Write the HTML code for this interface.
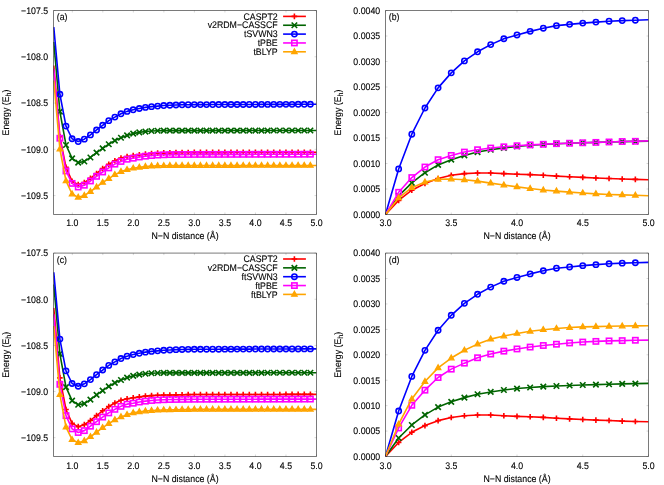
<!DOCTYPE html>
<html><head><meta charset="utf-8"><title>N2 dissociation curves</title>
<style>
html,body{margin:0;padding:0;background:#fff;}
svg{display:block;}
text{font-family:"Liberation Sans",sans-serif;font-size:9.59px;fill:#000;stroke:#000;stroke-width:0.12px;text-rendering:geometricPrecision;}
</style></head><body>
<svg width="664" height="485" viewBox="0 0 664 485">
<rect width="664" height="485" fill="#fff"/>
<g style="will-change:transform">
<clipPath id="ca"><rect x="53.5" y="10.5" width="263" height="204"/></clipPath>
<g clip-path="url(#ca)"><polyline points="53.77,65.47 59.88,136.74 65.99,167.37 72.1,181.25 78.21,184.59 84.32,182.55 90.43,178.39 96.54,173.48 102.65,168.67 108.76,164.41 114.87,160.8 120.98,158.12 127.09,156.54 133.2,155.62 139.31,154.69 145.42,153.95 151.53,153.49 157.64,153.12 163.75,152.84 169.86,152.75 175.97,152.66 182.08,152.56 188.19,152.47 194.3,152.38 200.41,152.37 206.52,152.36 212.63,152.35 218.74,152.34 224.85,152.33 230.96,152.32 237.07,152.31 243.18,152.31 249.29,152.3 255.4,152.29 261.51,152.28 267.62,152.27 273.73,152.26 279.84,152.25 285.95,152.24 292.06,152.23 298.17,152.22 304.28,152.21 310.39,152.2 316.5,152.19" fill="none" stroke="#ff0000" stroke-width="1.6" stroke-linejoin="round"/></g><path d="M57.08 136.74H62.68M59.88 133.94V139.54" stroke="#ff0000" stroke-width="1.6" fill="none"/><path d="M63.19 167.37H68.79M65.99 164.57V170.17" stroke="#ff0000" stroke-width="1.6" fill="none"/><path d="M69.3 181.25H74.9M72.1 178.45V184.05" stroke="#ff0000" stroke-width="1.6" fill="none"/><path d="M75.41 184.59H81.01M78.21 181.79V187.39" stroke="#ff0000" stroke-width="1.6" fill="none"/><path d="M81.52 182.55H87.12M84.32 179.75V185.35" stroke="#ff0000" stroke-width="1.6" fill="none"/><path d="M87.63 178.39H93.23M90.43 175.59V181.19" stroke="#ff0000" stroke-width="1.6" fill="none"/><path d="M93.74 173.48H99.34M96.54 170.68V176.28" stroke="#ff0000" stroke-width="1.6" fill="none"/><path d="M99.85 168.67H105.45M102.65 165.87V171.47" stroke="#ff0000" stroke-width="1.6" fill="none"/><path d="M105.96 164.41H111.56M108.76 161.61V167.21" stroke="#ff0000" stroke-width="1.6" fill="none"/><path d="M112.07 160.8H117.67M114.87 158V163.6" stroke="#ff0000" stroke-width="1.6" fill="none"/><path d="M118.18 158.12H123.78M120.98 155.32V160.92" stroke="#ff0000" stroke-width="1.6" fill="none"/><path d="M124.29 156.54H129.89M127.09 153.74V159.34" stroke="#ff0000" stroke-width="1.6" fill="none"/><path d="M130.4 155.62H136M133.2 152.82V158.42" stroke="#ff0000" stroke-width="1.6" fill="none"/><path d="M136.51 154.69H142.11M139.31 151.89V157.49" stroke="#ff0000" stroke-width="1.6" fill="none"/><path d="M142.62 153.95H148.22M145.42 151.15V156.75" stroke="#ff0000" stroke-width="1.6" fill="none"/><path d="M148.73 153.49H154.33M151.53 150.69V156.29" stroke="#ff0000" stroke-width="1.6" fill="none"/><path d="M154.84 153.12H160.44M157.64 150.32V155.92" stroke="#ff0000" stroke-width="1.6" fill="none"/><path d="M160.95 152.84H166.55M163.75 150.04V155.64" stroke="#ff0000" stroke-width="1.6" fill="none"/><path d="M167.06 152.75H172.66M169.86 149.95V155.55" stroke="#ff0000" stroke-width="1.6" fill="none"/><path d="M173.17 152.66H178.77M175.97 149.86V155.46" stroke="#ff0000" stroke-width="1.6" fill="none"/><path d="M179.28 152.56H184.88M182.08 149.76V155.36" stroke="#ff0000" stroke-width="1.6" fill="none"/><path d="M185.39 152.47H190.99M188.19 149.67V155.27" stroke="#ff0000" stroke-width="1.6" fill="none"/><path d="M191.5 152.38H197.1M194.3 149.58V155.18" stroke="#ff0000" stroke-width="1.6" fill="none"/><path d="M197.61 152.37H203.21M200.41 149.57V155.17" stroke="#ff0000" stroke-width="1.6" fill="none"/><path d="M203.72 152.36H209.32M206.52 149.56V155.16" stroke="#ff0000" stroke-width="1.6" fill="none"/><path d="M209.83 152.35H215.43M212.63 149.55V155.15" stroke="#ff0000" stroke-width="1.6" fill="none"/><path d="M215.94 152.34H221.54M218.74 149.54V155.14" stroke="#ff0000" stroke-width="1.6" fill="none"/><path d="M222.05 152.33H227.65M224.85 149.53V155.13" stroke="#ff0000" stroke-width="1.6" fill="none"/><path d="M228.16 152.32H233.76M230.96 149.52V155.12" stroke="#ff0000" stroke-width="1.6" fill="none"/><path d="M234.27 152.31H239.87M237.07 149.51V155.11" stroke="#ff0000" stroke-width="1.6" fill="none"/><path d="M240.38 152.31H245.98M243.18 149.51V155.11" stroke="#ff0000" stroke-width="1.6" fill="none"/><path d="M246.49 152.3H252.09M249.29 149.5V155.1" stroke="#ff0000" stroke-width="1.6" fill="none"/><path d="M252.6 152.29H258.2M255.4 149.49V155.09" stroke="#ff0000" stroke-width="1.6" fill="none"/><path d="M258.71 152.28H264.31M261.51 149.48V155.08" stroke="#ff0000" stroke-width="1.6" fill="none"/><path d="M264.82 152.27H270.42M267.62 149.47V155.07" stroke="#ff0000" stroke-width="1.6" fill="none"/><path d="M270.93 152.26H276.53M273.73 149.46V155.06" stroke="#ff0000" stroke-width="1.6" fill="none"/><path d="M277.04 152.25H282.64M279.84 149.45V155.05" stroke="#ff0000" stroke-width="1.6" fill="none"/><path d="M283.15 152.24H288.75M285.95 149.44V155.04" stroke="#ff0000" stroke-width="1.6" fill="none"/><path d="M289.26 152.23H294.86M292.06 149.43V155.03" stroke="#ff0000" stroke-width="1.6" fill="none"/><path d="M295.37 152.22H300.97M298.17 149.42V155.02" stroke="#ff0000" stroke-width="1.6" fill="none"/><path d="M301.48 152.21H307.08M304.28 149.41V155.01" stroke="#ff0000" stroke-width="1.6" fill="none"/><path d="M307.59 152.2H313.19M310.39 149.4V155" stroke="#ff0000" stroke-width="1.6" fill="none"/>
<g clip-path="url(#ca)"><polyline points="53.77,41.97 59.88,111.56 65.99,144.98 72.1,158.39 78.21,162.65 84.32,161.45 90.43,157.47 96.54,152.66 102.65,148.4 108.76,144.23 114.87,140.63 120.98,137.76 127.09,135.44 133.2,133.59 139.31,132.39 145.42,131.56 151.53,131 157.64,130.72 163.75,130.63 169.86,130.62 175.97,130.61 182.08,130.6 188.19,130.59 194.3,130.58 200.41,130.58 206.52,130.58 212.63,130.58 218.74,130.57 224.85,130.57 230.96,130.57 237.07,130.57 243.18,130.57 249.29,130.56 255.4,130.56 261.51,130.56 267.62,130.56 273.73,130.55 279.84,130.55 285.95,130.55 292.06,130.55 298.17,130.54 304.28,130.54 310.39,130.54 316.5,130.54" fill="none" stroke="#006400" stroke-width="1.6" stroke-linejoin="round"/></g><path d="M57.13 108.81L62.63 114.31M57.13 114.31L62.63 108.81" stroke="#006400" stroke-width="1.6" fill="none"/><path d="M63.24 142.23L68.74 147.73M63.24 147.73L68.74 142.23" stroke="#006400" stroke-width="1.6" fill="none"/><path d="M69.35 155.64L74.85 161.14M69.35 161.14L74.85 155.64" stroke="#006400" stroke-width="1.6" fill="none"/><path d="M75.46 159.9L80.96 165.4M75.46 165.4L80.96 159.9" stroke="#006400" stroke-width="1.6" fill="none"/><path d="M81.57 158.7L87.07 164.2M81.57 164.2L87.07 158.7" stroke="#006400" stroke-width="1.6" fill="none"/><path d="M87.68 154.72L93.18 160.22M87.68 160.22L93.18 154.72" stroke="#006400" stroke-width="1.6" fill="none"/><path d="M93.79 149.91L99.29 155.41M93.79 155.41L99.29 149.91" stroke="#006400" stroke-width="1.6" fill="none"/><path d="M99.9 145.65L105.4 151.15M99.9 151.15L105.4 145.65" stroke="#006400" stroke-width="1.6" fill="none"/><path d="M106.01 141.48L111.51 146.98M106.01 146.98L111.51 141.48" stroke="#006400" stroke-width="1.6" fill="none"/><path d="M112.12 137.88L117.62 143.38M112.12 143.38L117.62 137.88" stroke="#006400" stroke-width="1.6" fill="none"/><path d="M118.23 135.01L123.73 140.51M118.23 140.51L123.73 135.01" stroke="#006400" stroke-width="1.6" fill="none"/><path d="M124.34 132.69L129.84 138.19M124.34 138.19L129.84 132.69" stroke="#006400" stroke-width="1.6" fill="none"/><path d="M130.45 130.84L135.95 136.34M130.45 136.34L135.95 130.84" stroke="#006400" stroke-width="1.6" fill="none"/><path d="M136.56 129.64L142.06 135.14M136.56 135.14L142.06 129.64" stroke="#006400" stroke-width="1.6" fill="none"/><path d="M142.67 128.81L148.17 134.31M142.67 134.31L148.17 128.81" stroke="#006400" stroke-width="1.6" fill="none"/><path d="M148.78 128.25L154.28 133.75M148.78 133.75L154.28 128.25" stroke="#006400" stroke-width="1.6" fill="none"/><path d="M154.89 127.97L160.39 133.47M154.89 133.47L160.39 127.97" stroke="#006400" stroke-width="1.6" fill="none"/><path d="M161 127.88L166.5 133.38M161 133.38L166.5 127.88" stroke="#006400" stroke-width="1.6" fill="none"/><path d="M167.11 127.87L172.61 133.37M167.11 133.37L172.61 127.87" stroke="#006400" stroke-width="1.6" fill="none"/><path d="M173.22 127.86L178.72 133.36M173.22 133.36L178.72 127.86" stroke="#006400" stroke-width="1.6" fill="none"/><path d="M179.33 127.85L184.83 133.35M179.33 133.35L184.83 127.85" stroke="#006400" stroke-width="1.6" fill="none"/><path d="M185.44 127.84L190.94 133.34M185.44 133.34L190.94 127.84" stroke="#006400" stroke-width="1.6" fill="none"/><path d="M191.55 127.83L197.05 133.33M191.55 133.33L197.05 127.83" stroke="#006400" stroke-width="1.6" fill="none"/><path d="M197.66 127.83L203.16 133.33M197.66 133.33L203.16 127.83" stroke="#006400" stroke-width="1.6" fill="none"/><path d="M203.77 127.83L209.27 133.33M203.77 133.33L209.27 127.83" stroke="#006400" stroke-width="1.6" fill="none"/><path d="M209.88 127.83L215.38 133.33M209.88 133.33L215.38 127.83" stroke="#006400" stroke-width="1.6" fill="none"/><path d="M215.99 127.82L221.49 133.32M215.99 133.32L221.49 127.82" stroke="#006400" stroke-width="1.6" fill="none"/><path d="M222.1 127.82L227.6 133.32M222.1 133.32L227.6 127.82" stroke="#006400" stroke-width="1.6" fill="none"/><path d="M228.21 127.82L233.71 133.32M228.21 133.32L233.71 127.82" stroke="#006400" stroke-width="1.6" fill="none"/><path d="M234.32 127.82L239.82 133.32M234.32 133.32L239.82 127.82" stroke="#006400" stroke-width="1.6" fill="none"/><path d="M240.43 127.82L245.93 133.32M240.43 133.32L245.93 127.82" stroke="#006400" stroke-width="1.6" fill="none"/><path d="M246.54 127.81L252.04 133.31M246.54 133.31L252.04 127.81" stroke="#006400" stroke-width="1.6" fill="none"/><path d="M252.65 127.81L258.15 133.31M252.65 133.31L258.15 127.81" stroke="#006400" stroke-width="1.6" fill="none"/><path d="M258.76 127.81L264.26 133.31M258.76 133.31L264.26 127.81" stroke="#006400" stroke-width="1.6" fill="none"/><path d="M264.87 127.81L270.37 133.31M264.87 133.31L270.37 127.81" stroke="#006400" stroke-width="1.6" fill="none"/><path d="M270.98 127.8L276.48 133.3M270.98 133.3L276.48 127.8" stroke="#006400" stroke-width="1.6" fill="none"/><path d="M277.09 127.8L282.59 133.3M277.09 133.3L282.59 127.8" stroke="#006400" stroke-width="1.6" fill="none"/><path d="M283.2 127.8L288.7 133.3M283.2 133.3L288.7 127.8" stroke="#006400" stroke-width="1.6" fill="none"/><path d="M289.31 127.8L294.81 133.3M289.31 133.3L294.81 127.8" stroke="#006400" stroke-width="1.6" fill="none"/><path d="M295.42 127.79L300.92 133.29M295.42 133.29L300.92 127.79" stroke="#006400" stroke-width="1.6" fill="none"/><path d="M301.53 127.79L307.03 133.29M301.53 133.29L307.03 127.79" stroke="#006400" stroke-width="1.6" fill="none"/><path d="M307.64 127.79L313.14 133.29M307.64 133.29L313.14 127.79" stroke="#006400" stroke-width="1.6" fill="none"/>
<g clip-path="url(#ca)"><polyline points="53.77,27.16 59.88,94.26 65.99,126.09 72.1,138.77 78.21,141.55 84.32,139.14 90.43,134.89 96.54,129.98 102.65,125.26 108.76,120.63 114.87,117.12 120.98,113.79 127.09,111.38 133.2,109.81 139.31,108.51 145.42,107.4 151.53,106.66 157.64,106.1 163.75,105.55 169.86,105.27 175.97,104.99 182.08,104.81 188.19,104.72 194.3,104.62 200.41,104.6 206.52,104.59 212.63,104.57 218.74,104.55 224.85,104.53 230.96,104.51 237.07,104.49 243.18,104.48 249.29,104.46 255.4,104.44 261.51,104.42 267.62,104.4 273.73,104.38 279.84,104.36 285.95,104.35 292.06,104.33 298.17,104.31 304.28,104.29 310.39,104.27 316.5,104.25" fill="none" stroke="#0000ff" stroke-width="1.6" stroke-linejoin="round"/></g><circle cx="59.88" cy="94.26" r="2.65" stroke="#0000ff" stroke-width="1.6" fill="none"/><circle cx="65.99" cy="126.09" r="2.65" stroke="#0000ff" stroke-width="1.6" fill="none"/><circle cx="72.1" cy="138.77" r="2.65" stroke="#0000ff" stroke-width="1.6" fill="none"/><circle cx="78.21" cy="141.55" r="2.65" stroke="#0000ff" stroke-width="1.6" fill="none"/><circle cx="84.32" cy="139.14" r="2.65" stroke="#0000ff" stroke-width="1.6" fill="none"/><circle cx="90.43" cy="134.89" r="2.65" stroke="#0000ff" stroke-width="1.6" fill="none"/><circle cx="96.54" cy="129.98" r="2.65" stroke="#0000ff" stroke-width="1.6" fill="none"/><circle cx="102.65" cy="125.26" r="2.65" stroke="#0000ff" stroke-width="1.6" fill="none"/><circle cx="108.76" cy="120.63" r="2.65" stroke="#0000ff" stroke-width="1.6" fill="none"/><circle cx="114.87" cy="117.12" r="2.65" stroke="#0000ff" stroke-width="1.6" fill="none"/><circle cx="120.98" cy="113.79" r="2.65" stroke="#0000ff" stroke-width="1.6" fill="none"/><circle cx="127.09" cy="111.38" r="2.65" stroke="#0000ff" stroke-width="1.6" fill="none"/><circle cx="133.2" cy="109.81" r="2.65" stroke="#0000ff" stroke-width="1.6" fill="none"/><circle cx="139.31" cy="108.51" r="2.65" stroke="#0000ff" stroke-width="1.6" fill="none"/><circle cx="145.42" cy="107.4" r="2.65" stroke="#0000ff" stroke-width="1.6" fill="none"/><circle cx="151.53" cy="106.66" r="2.65" stroke="#0000ff" stroke-width="1.6" fill="none"/><circle cx="157.64" cy="106.1" r="2.65" stroke="#0000ff" stroke-width="1.6" fill="none"/><circle cx="163.75" cy="105.55" r="2.65" stroke="#0000ff" stroke-width="1.6" fill="none"/><circle cx="169.86" cy="105.27" r="2.65" stroke="#0000ff" stroke-width="1.6" fill="none"/><circle cx="175.97" cy="104.99" r="2.65" stroke="#0000ff" stroke-width="1.6" fill="none"/><circle cx="182.08" cy="104.81" r="2.65" stroke="#0000ff" stroke-width="1.6" fill="none"/><circle cx="188.19" cy="104.72" r="2.65" stroke="#0000ff" stroke-width="1.6" fill="none"/><circle cx="194.3" cy="104.62" r="2.65" stroke="#0000ff" stroke-width="1.6" fill="none"/><circle cx="200.41" cy="104.6" r="2.65" stroke="#0000ff" stroke-width="1.6" fill="none"/><circle cx="206.52" cy="104.59" r="2.65" stroke="#0000ff" stroke-width="1.6" fill="none"/><circle cx="212.63" cy="104.57" r="2.65" stroke="#0000ff" stroke-width="1.6" fill="none"/><circle cx="218.74" cy="104.55" r="2.65" stroke="#0000ff" stroke-width="1.6" fill="none"/><circle cx="224.85" cy="104.53" r="2.65" stroke="#0000ff" stroke-width="1.6" fill="none"/><circle cx="230.96" cy="104.51" r="2.65" stroke="#0000ff" stroke-width="1.6" fill="none"/><circle cx="237.07" cy="104.49" r="2.65" stroke="#0000ff" stroke-width="1.6" fill="none"/><circle cx="243.18" cy="104.48" r="2.65" stroke="#0000ff" stroke-width="1.6" fill="none"/><circle cx="249.29" cy="104.46" r="2.65" stroke="#0000ff" stroke-width="1.6" fill="none"/><circle cx="255.4" cy="104.44" r="2.65" stroke="#0000ff" stroke-width="1.6" fill="none"/><circle cx="261.51" cy="104.42" r="2.65" stroke="#0000ff" stroke-width="1.6" fill="none"/><circle cx="267.62" cy="104.4" r="2.65" stroke="#0000ff" stroke-width="1.6" fill="none"/><circle cx="273.73" cy="104.38" r="2.65" stroke="#0000ff" stroke-width="1.6" fill="none"/><circle cx="279.84" cy="104.36" r="2.65" stroke="#0000ff" stroke-width="1.6" fill="none"/><circle cx="285.95" cy="104.35" r="2.65" stroke="#0000ff" stroke-width="1.6" fill="none"/><circle cx="292.06" cy="104.33" r="2.65" stroke="#0000ff" stroke-width="1.6" fill="none"/><circle cx="298.17" cy="104.31" r="2.65" stroke="#0000ff" stroke-width="1.6" fill="none"/><circle cx="304.28" cy="104.29" r="2.65" stroke="#0000ff" stroke-width="1.6" fill="none"/><circle cx="310.39" cy="104.27" r="2.65" stroke="#0000ff" stroke-width="1.6" fill="none"/>
<g clip-path="url(#ca)"><polyline points="53.77,69.08 59.88,138.22 65.99,170.98 72.1,183.38 78.21,186.99 84.32,185.23 90.43,180.98 96.54,176.35 102.65,172 108.76,167.93 114.87,164.13 120.98,161.45 127.09,159.23 133.2,158.21 139.31,157.01 145.42,156.17 151.53,155.53 157.64,155.06 163.75,154.79 169.86,154.6 175.97,154.55 182.08,154.51 188.19,154.46 194.3,154.42 200.41,154.41 206.52,154.4 212.63,154.39 218.74,154.38 224.85,154.37 230.96,154.36 237.07,154.35 243.18,154.34 249.29,154.33 255.4,154.32 261.51,154.31 267.62,154.3 273.73,154.29 279.84,154.29 285.95,154.28 292.06,154.27 298.17,154.26 304.28,154.25 310.39,154.24 316.5,154.23" fill="none" stroke="#ff00ff" stroke-width="1.6" stroke-linejoin="round"/></g><rect x="57.23" y="135.57" width="5.3" height="5.3" stroke="#ff00ff" stroke-width="1.6" fill="none"/><rect x="63.34" y="168.33" width="5.3" height="5.3" stroke="#ff00ff" stroke-width="1.6" fill="none"/><rect x="69.45" y="180.73" width="5.3" height="5.3" stroke="#ff00ff" stroke-width="1.6" fill="none"/><rect x="75.56" y="184.34" width="5.3" height="5.3" stroke="#ff00ff" stroke-width="1.6" fill="none"/><rect x="81.67" y="182.58" width="5.3" height="5.3" stroke="#ff00ff" stroke-width="1.6" fill="none"/><rect x="87.78" y="178.33" width="5.3" height="5.3" stroke="#ff00ff" stroke-width="1.6" fill="none"/><rect x="93.89" y="173.7" width="5.3" height="5.3" stroke="#ff00ff" stroke-width="1.6" fill="none"/><rect x="100" y="169.35" width="5.3" height="5.3" stroke="#ff00ff" stroke-width="1.6" fill="none"/><rect x="106.11" y="165.28" width="5.3" height="5.3" stroke="#ff00ff" stroke-width="1.6" fill="none"/><rect x="112.22" y="161.48" width="5.3" height="5.3" stroke="#ff00ff" stroke-width="1.6" fill="none"/><rect x="118.33" y="158.8" width="5.3" height="5.3" stroke="#ff00ff" stroke-width="1.6" fill="none"/><rect x="124.44" y="156.58" width="5.3" height="5.3" stroke="#ff00ff" stroke-width="1.6" fill="none"/><rect x="130.55" y="155.56" width="5.3" height="5.3" stroke="#ff00ff" stroke-width="1.6" fill="none"/><rect x="136.66" y="154.36" width="5.3" height="5.3" stroke="#ff00ff" stroke-width="1.6" fill="none"/><rect x="142.77" y="153.52" width="5.3" height="5.3" stroke="#ff00ff" stroke-width="1.6" fill="none"/><rect x="148.88" y="152.88" width="5.3" height="5.3" stroke="#ff00ff" stroke-width="1.6" fill="none"/><rect x="154.99" y="152.41" width="5.3" height="5.3" stroke="#ff00ff" stroke-width="1.6" fill="none"/><rect x="161.1" y="152.14" width="5.3" height="5.3" stroke="#ff00ff" stroke-width="1.6" fill="none"/><rect x="167.21" y="151.95" width="5.3" height="5.3" stroke="#ff00ff" stroke-width="1.6" fill="none"/><rect x="173.32" y="151.9" width="5.3" height="5.3" stroke="#ff00ff" stroke-width="1.6" fill="none"/><rect x="179.43" y="151.86" width="5.3" height="5.3" stroke="#ff00ff" stroke-width="1.6" fill="none"/><rect x="185.54" y="151.81" width="5.3" height="5.3" stroke="#ff00ff" stroke-width="1.6" fill="none"/><rect x="191.65" y="151.77" width="5.3" height="5.3" stroke="#ff00ff" stroke-width="1.6" fill="none"/><rect x="197.76" y="151.76" width="5.3" height="5.3" stroke="#ff00ff" stroke-width="1.6" fill="none"/><rect x="203.87" y="151.75" width="5.3" height="5.3" stroke="#ff00ff" stroke-width="1.6" fill="none"/><rect x="209.98" y="151.74" width="5.3" height="5.3" stroke="#ff00ff" stroke-width="1.6" fill="none"/><rect x="216.09" y="151.73" width="5.3" height="5.3" stroke="#ff00ff" stroke-width="1.6" fill="none"/><rect x="222.2" y="151.72" width="5.3" height="5.3" stroke="#ff00ff" stroke-width="1.6" fill="none"/><rect x="228.31" y="151.71" width="5.3" height="5.3" stroke="#ff00ff" stroke-width="1.6" fill="none"/><rect x="234.42" y="151.7" width="5.3" height="5.3" stroke="#ff00ff" stroke-width="1.6" fill="none"/><rect x="240.53" y="151.69" width="5.3" height="5.3" stroke="#ff00ff" stroke-width="1.6" fill="none"/><rect x="246.64" y="151.68" width="5.3" height="5.3" stroke="#ff00ff" stroke-width="1.6" fill="none"/><rect x="252.75" y="151.67" width="5.3" height="5.3" stroke="#ff00ff" stroke-width="1.6" fill="none"/><rect x="258.86" y="151.66" width="5.3" height="5.3" stroke="#ff00ff" stroke-width="1.6" fill="none"/><rect x="264.97" y="151.65" width="5.3" height="5.3" stroke="#ff00ff" stroke-width="1.6" fill="none"/><rect x="271.08" y="151.64" width="5.3" height="5.3" stroke="#ff00ff" stroke-width="1.6" fill="none"/><rect x="277.19" y="151.64" width="5.3" height="5.3" stroke="#ff00ff" stroke-width="1.6" fill="none"/><rect x="283.3" y="151.63" width="5.3" height="5.3" stroke="#ff00ff" stroke-width="1.6" fill="none"/><rect x="289.41" y="151.62" width="5.3" height="5.3" stroke="#ff00ff" stroke-width="1.6" fill="none"/><rect x="295.52" y="151.61" width="5.3" height="5.3" stroke="#ff00ff" stroke-width="1.6" fill="none"/><rect x="301.63" y="151.6" width="5.3" height="5.3" stroke="#ff00ff" stroke-width="1.6" fill="none"/><rect x="307.74" y="151.59" width="5.3" height="5.3" stroke="#ff00ff" stroke-width="1.6" fill="none"/>
<g clip-path="url(#ca)"><polyline points="53.77,80.47 59.88,149.05 65.99,180.98 72.1,194.03 78.21,197.36 84.32,195.51 90.43,191.62 96.54,186.99 102.65,182.46 108.76,178.57 114.87,174.68 120.98,171.63 127.09,169.69 133.2,168.21 139.31,167.37 145.42,166.63 151.53,166.17 157.64,165.89 163.75,165.71 169.86,165.67 175.97,165.63 182.08,165.6 188.19,165.56 194.3,165.52 200.41,165.52 206.52,165.51 212.63,165.51 218.74,165.5 224.85,165.5 230.96,165.49 237.07,165.49 243.18,165.48 249.29,165.48 255.4,165.47 261.51,165.47 267.62,165.47 273.73,165.46 279.84,165.46 285.95,165.45 292.06,165.45 298.17,165.44 304.28,165.44 310.39,165.43 316.5,165.43" fill="none" stroke="#ffa500" stroke-width="1.6" stroke-linejoin="round"/></g><path d="M59.88 146.05L57.18 150.8H62.58Z" fill="#ffa500" stroke="#ffa500" stroke-width="1.2800000000000002" stroke-linejoin="miter"/><path d="M65.99 177.98L63.29 182.73H68.69Z" fill="#ffa500" stroke="#ffa500" stroke-width="1.2800000000000002" stroke-linejoin="miter"/><path d="M72.1 191.03L69.4 195.78H74.8Z" fill="#ffa500" stroke="#ffa500" stroke-width="1.2800000000000002" stroke-linejoin="miter"/><path d="M78.21 194.36L75.51 199.11H80.91Z" fill="#ffa500" stroke="#ffa500" stroke-width="1.2800000000000002" stroke-linejoin="miter"/><path d="M84.32 192.51L81.62 197.26H87.02Z" fill="#ffa500" stroke="#ffa500" stroke-width="1.2800000000000002" stroke-linejoin="miter"/><path d="M90.43 188.62L87.73 193.37H93.13Z" fill="#ffa500" stroke="#ffa500" stroke-width="1.2800000000000002" stroke-linejoin="miter"/><path d="M96.54 183.99L93.84 188.74H99.24Z" fill="#ffa500" stroke="#ffa500" stroke-width="1.2800000000000002" stroke-linejoin="miter"/><path d="M102.65 179.46L99.95 184.21H105.35Z" fill="#ffa500" stroke="#ffa500" stroke-width="1.2800000000000002" stroke-linejoin="miter"/><path d="M108.76 175.57L106.06 180.32H111.46Z" fill="#ffa500" stroke="#ffa500" stroke-width="1.2800000000000002" stroke-linejoin="miter"/><path d="M114.87 171.68L112.17 176.43H117.57Z" fill="#ffa500" stroke="#ffa500" stroke-width="1.2800000000000002" stroke-linejoin="miter"/><path d="M120.98 168.63L118.28 173.38H123.68Z" fill="#ffa500" stroke="#ffa500" stroke-width="1.2800000000000002" stroke-linejoin="miter"/><path d="M127.09 166.69L124.39 171.44H129.79Z" fill="#ffa500" stroke="#ffa500" stroke-width="1.2800000000000002" stroke-linejoin="miter"/><path d="M133.2 165.21L130.5 169.96H135.9Z" fill="#ffa500" stroke="#ffa500" stroke-width="1.2800000000000002" stroke-linejoin="miter"/><path d="M139.31 164.37L136.61 169.12H142.01Z" fill="#ffa500" stroke="#ffa500" stroke-width="1.2800000000000002" stroke-linejoin="miter"/><path d="M145.42 163.63L142.72 168.38H148.12Z" fill="#ffa500" stroke="#ffa500" stroke-width="1.2800000000000002" stroke-linejoin="miter"/><path d="M151.53 163.17L148.83 167.92H154.23Z" fill="#ffa500" stroke="#ffa500" stroke-width="1.2800000000000002" stroke-linejoin="miter"/><path d="M157.64 162.89L154.94 167.64H160.34Z" fill="#ffa500" stroke="#ffa500" stroke-width="1.2800000000000002" stroke-linejoin="miter"/><path d="M163.75 162.71L161.05 167.46H166.45Z" fill="#ffa500" stroke="#ffa500" stroke-width="1.2800000000000002" stroke-linejoin="miter"/><path d="M169.86 162.67L167.16 167.42H172.56Z" fill="#ffa500" stroke="#ffa500" stroke-width="1.2800000000000002" stroke-linejoin="miter"/><path d="M175.97 162.63L173.27 167.38H178.67Z" fill="#ffa500" stroke="#ffa500" stroke-width="1.2800000000000002" stroke-linejoin="miter"/><path d="M182.08 162.6L179.38 167.35H184.78Z" fill="#ffa500" stroke="#ffa500" stroke-width="1.2800000000000002" stroke-linejoin="miter"/><path d="M188.19 162.56L185.49 167.31H190.89Z" fill="#ffa500" stroke="#ffa500" stroke-width="1.2800000000000002" stroke-linejoin="miter"/><path d="M194.3 162.52L191.6 167.27H197Z" fill="#ffa500" stroke="#ffa500" stroke-width="1.2800000000000002" stroke-linejoin="miter"/><path d="M200.41 162.52L197.71 167.27H203.11Z" fill="#ffa500" stroke="#ffa500" stroke-width="1.2800000000000002" stroke-linejoin="miter"/><path d="M206.52 162.51L203.82 167.26H209.22Z" fill="#ffa500" stroke="#ffa500" stroke-width="1.2800000000000002" stroke-linejoin="miter"/><path d="M212.63 162.51L209.93 167.26H215.33Z" fill="#ffa500" stroke="#ffa500" stroke-width="1.2800000000000002" stroke-linejoin="miter"/><path d="M218.74 162.5L216.04 167.25H221.44Z" fill="#ffa500" stroke="#ffa500" stroke-width="1.2800000000000002" stroke-linejoin="miter"/><path d="M224.85 162.5L222.15 167.25H227.55Z" fill="#ffa500" stroke="#ffa500" stroke-width="1.2800000000000002" stroke-linejoin="miter"/><path d="M230.96 162.49L228.26 167.24H233.66Z" fill="#ffa500" stroke="#ffa500" stroke-width="1.2800000000000002" stroke-linejoin="miter"/><path d="M237.07 162.49L234.37 167.24H239.77Z" fill="#ffa500" stroke="#ffa500" stroke-width="1.2800000000000002" stroke-linejoin="miter"/><path d="M243.18 162.48L240.48 167.23H245.88Z" fill="#ffa500" stroke="#ffa500" stroke-width="1.2800000000000002" stroke-linejoin="miter"/><path d="M249.29 162.48L246.59 167.23H251.99Z" fill="#ffa500" stroke="#ffa500" stroke-width="1.2800000000000002" stroke-linejoin="miter"/><path d="M255.4 162.47L252.7 167.22H258.1Z" fill="#ffa500" stroke="#ffa500" stroke-width="1.2800000000000002" stroke-linejoin="miter"/><path d="M261.51 162.47L258.81 167.22H264.21Z" fill="#ffa500" stroke="#ffa500" stroke-width="1.2800000000000002" stroke-linejoin="miter"/><path d="M267.62 162.47L264.92 167.22H270.32Z" fill="#ffa500" stroke="#ffa500" stroke-width="1.2800000000000002" stroke-linejoin="miter"/><path d="M273.73 162.46L271.03 167.21H276.43Z" fill="#ffa500" stroke="#ffa500" stroke-width="1.2800000000000002" stroke-linejoin="miter"/><path d="M279.84 162.46L277.14 167.21H282.54Z" fill="#ffa500" stroke="#ffa500" stroke-width="1.2800000000000002" stroke-linejoin="miter"/><path d="M285.95 162.45L283.25 167.2H288.65Z" fill="#ffa500" stroke="#ffa500" stroke-width="1.2800000000000002" stroke-linejoin="miter"/><path d="M292.06 162.45L289.36 167.2H294.76Z" fill="#ffa500" stroke="#ffa500" stroke-width="1.2800000000000002" stroke-linejoin="miter"/><path d="M298.17 162.44L295.47 167.19H300.87Z" fill="#ffa500" stroke="#ffa500" stroke-width="1.2800000000000002" stroke-linejoin="miter"/><path d="M304.28 162.44L301.58 167.19H306.98Z" fill="#ffa500" stroke="#ffa500" stroke-width="1.2800000000000002" stroke-linejoin="miter"/><path d="M310.39 162.43L307.69 167.18H313.09Z" fill="#ffa500" stroke="#ffa500" stroke-width="1.2800000000000002" stroke-linejoin="miter"/>
<rect x="53.5" y="10.5" width="263" height="204" fill="none" stroke="#000" stroke-opacity="0.52" stroke-width="1" stroke-linejoin="round"/>
<text transform="translate(72.3 226.1) scale(0.9174 1)" text-anchor="middle" >1.0</text>
<text transform="translate(102.83 226.1) scale(0.9174 1)" text-anchor="middle" >1.5</text>
<text transform="translate(133.35 226.1) scale(0.9174 1)" text-anchor="middle" >2.0</text>
<text transform="translate(163.88 226.1) scale(0.9174 1)" text-anchor="middle" >2.5</text>
<text transform="translate(194.4 226.1) scale(0.9174 1)" text-anchor="middle" >3.0</text>
<text transform="translate(224.93 226.1) scale(0.9174 1)" text-anchor="middle" >3.5</text>
<text transform="translate(255.45 226.1) scale(0.9174 1)" text-anchor="middle" >4.0</text>
<text transform="translate(285.98 226.1) scale(0.9174 1)" text-anchor="middle" >4.5</text>
<text transform="translate(316.5 226.1) scale(0.9174 1)" text-anchor="middle" >5.0</text>
<text transform="translate(48.2 13.8) scale(0.9174 1)" text-anchor="end" >−107.5</text>
<text transform="translate(48.2 60.07) scale(0.9174 1)" text-anchor="end" >−108.0</text>
<text transform="translate(48.2 106.35) scale(0.9174 1)" text-anchor="end" >−108.5</text>
<text transform="translate(48.2 152.62) scale(0.9174 1)" text-anchor="end" >−109.0</text>
<text transform="translate(48.2 198.9) scale(0.9174 1)" text-anchor="end" >−109.5</text>
<path d="M72.3 214.5v-2M72.3 10.5v2M102.83 214.5v-2M102.83 10.5v2M133.35 214.5v-2M133.35 10.5v2M163.88 214.5v-2M163.88 10.5v2M194.4 214.5v-2M194.4 10.5v2M224.93 214.5v-2M224.93 10.5v2M255.45 214.5v-2M255.45 10.5v2M285.98 214.5v-2M285.98 10.5v2M316.5 214.5v-2M316.5 10.5v2M53.5 10.5h2M316.5 10.5h-2M53.5 56.77h2M316.5 56.77h-2M53.5 103.05h2M316.5 103.05h-2M53.5 149.32h2M316.5 149.32h-2M53.5 195.6h2M316.5 195.6h-2" stroke="#000" stroke-opacity="0.22" stroke-width="0.7" fill="none"/>
<text transform="translate(185 239.1) scale(0.9174 1)" text-anchor="middle" >N−N distance (Å)</text>
<text transform="translate(9.1 112.5) rotate(-90) scale(0.9174 1)" text-anchor="middle" x="0" y="0">Energy (E<tspan font-size="7.67" dy="2">h</tspan><tspan dy="-2">)</tspan></text>
<text transform="translate(56.8 19.9) scale(0.9174 1)" text-anchor="start" font-size="8.39">(a)</text>
<text transform="translate(277.7 19.55) scale(0.9174 1)" text-anchor="end" >CASPT2</text>
<path d="M283.1 16.4H305.9" stroke="#ff0000" stroke-width="1.6"/>
<path d="M291.6 16.4H297.2M294.4 13.6V19.2" stroke="#ff0000" stroke-width="1.6" fill="none"/>
<text transform="translate(277.7 28.4) scale(0.9174 1)" text-anchor="end" >v2RDM−CASSCF</text>
<path d="M283.1 25.25H305.9" stroke="#006400" stroke-width="1.6"/>
<path d="M291.65 22.5L297.15 28M291.65 28L297.15 22.5" stroke="#006400" stroke-width="1.6" fill="none"/>
<text transform="translate(277.7 37.25) scale(0.9174 1)" text-anchor="end" >tSVWN3</text>
<path d="M283.1 34.1H305.9" stroke="#0000ff" stroke-width="1.6"/>
<circle cx="294.4" cy="34.1" r="2.65" stroke="#0000ff" stroke-width="1.6" fill="none"/>
<text transform="translate(277.7 46.1) scale(0.9174 1)" text-anchor="end" >tPBE</text>
<path d="M283.1 42.95H305.9" stroke="#ff00ff" stroke-width="1.6"/>
<rect x="291.75" y="40.3" width="5.3" height="5.3" stroke="#ff00ff" stroke-width="1.6" fill="none"/>
<text transform="translate(277.7 54.95) scale(0.9174 1)" text-anchor="end" >tBLYP</text>
<path d="M283.1 51.8H305.9" stroke="#ffa500" stroke-width="1.6"/>
<path d="M294.4 48.8L291.7 53.55H297.1Z" fill="#ffa500" stroke="#ffa500" stroke-width="1.2800000000000002" stroke-linejoin="miter"/>
<clipPath id="cb"><rect x="385.5" y="10.5" width="263" height="204"/></clipPath>
<g clip-path="url(#cb)"><polyline points="385.5,214.5 398.65,200.42 411.8,190.22 424.95,183.49 438.1,178.54 451.25,175.33 464.4,173.6 477.55,172.94 490.7,172.94 503.85,173.6 517,174.21 530.15,174.62 543.3,175.28 556.45,176.1 569.6,176.76 582.75,177.37 595.9,178.03 609.05,178.44 622.2,179.06 635.35,179.41 648.5,179.72" fill="none" stroke="#ff0000" stroke-width="1.6" stroke-linejoin="round"/></g><path d="M395.85 200.42H401.45M398.65 197.62V203.22" stroke="#ff0000" stroke-width="1.6" fill="none"/><path d="M409 190.22H414.6M411.8 187.42V193.02" stroke="#ff0000" stroke-width="1.6" fill="none"/><path d="M422.15 183.49H427.75M424.95 180.69V186.29" stroke="#ff0000" stroke-width="1.6" fill="none"/><path d="M435.3 178.54H440.9M438.1 175.74V181.34" stroke="#ff0000" stroke-width="1.6" fill="none"/><path d="M448.45 175.33H454.05M451.25 172.53V178.13" stroke="#ff0000" stroke-width="1.6" fill="none"/><path d="M461.6 173.6H467.2M464.4 170.8V176.4" stroke="#ff0000" stroke-width="1.6" fill="none"/><path d="M474.75 172.94H480.35M477.55 170.13V175.74" stroke="#ff0000" stroke-width="1.6" fill="none"/><path d="M487.9 172.94H493.5M490.7 170.13V175.74" stroke="#ff0000" stroke-width="1.6" fill="none"/><path d="M501.05 173.6H506.65M503.85 170.8V176.4" stroke="#ff0000" stroke-width="1.6" fill="none"/><path d="M514.2 174.21H519.8M517 171.41V177.01" stroke="#ff0000" stroke-width="1.6" fill="none"/><path d="M527.35 174.62H532.95M530.15 171.82V177.42" stroke="#ff0000" stroke-width="1.6" fill="none"/><path d="M540.5 175.28H546.1M543.3 172.48V178.08" stroke="#ff0000" stroke-width="1.6" fill="none"/><path d="M553.65 176.1H559.25M556.45 173.3V178.9" stroke="#ff0000" stroke-width="1.6" fill="none"/><path d="M566.8 176.76H572.4M569.6 173.96V179.56" stroke="#ff0000" stroke-width="1.6" fill="none"/><path d="M579.95 177.37H585.55M582.75 174.57V180.17" stroke="#ff0000" stroke-width="1.6" fill="none"/><path d="M593.1 178.03H598.7M595.9 175.23V180.84" stroke="#ff0000" stroke-width="1.6" fill="none"/><path d="M606.25 178.44H611.85M609.05 175.64V181.24" stroke="#ff0000" stroke-width="1.6" fill="none"/><path d="M619.4 179.06H625M622.2 176.25V181.86" stroke="#ff0000" stroke-width="1.6" fill="none"/><path d="M632.55 179.41H638.15M635.35 176.61V182.21" stroke="#ff0000" stroke-width="1.6" fill="none"/>
<g clip-path="url(#cb)"><polyline points="385.5,214.5 398.65,195.94 411.8,182.88 424.95,172.73 438.1,164.93 451.25,159.68 464.4,155.44 477.55,152.08 490.7,149.73 503.85,147.84 517,146.36 530.15,145.24 543.3,144.43 556.45,143.76 569.6,143.25 582.75,142.79 595.9,142.39 609.05,142.03 622.2,141.67 635.35,141.42 648.5,141.16" fill="none" stroke="#006400" stroke-width="1.6" stroke-linejoin="round"/></g><path d="M395.9 193.19L401.4 198.69M395.9 198.69L401.4 193.19" stroke="#006400" stroke-width="1.6" fill="none"/><path d="M409.05 180.13L414.55 185.63M409.05 185.63L414.55 180.13" stroke="#006400" stroke-width="1.6" fill="none"/><path d="M422.2 169.98L427.7 175.48M422.2 175.48L427.7 169.98" stroke="#006400" stroke-width="1.6" fill="none"/><path d="M435.35 162.18L440.85 167.68M435.35 167.68L440.85 162.18" stroke="#006400" stroke-width="1.6" fill="none"/><path d="M448.5 156.93L454 162.43M448.5 162.43L454 156.93" stroke="#006400" stroke-width="1.6" fill="none"/><path d="M461.65 152.69L467.15 158.19M461.65 158.19L467.15 152.69" stroke="#006400" stroke-width="1.6" fill="none"/><path d="M474.8 149.33L480.3 154.83M474.8 154.83L480.3 149.33" stroke="#006400" stroke-width="1.6" fill="none"/><path d="M487.95 146.98L493.45 152.48M487.95 152.48L493.45 146.98" stroke="#006400" stroke-width="1.6" fill="none"/><path d="M501.1 145.09L506.6 150.59M501.1 150.59L506.6 145.09" stroke="#006400" stroke-width="1.6" fill="none"/><path d="M514.25 143.61L519.75 149.11M514.25 149.11L519.75 143.61" stroke="#006400" stroke-width="1.6" fill="none"/><path d="M527.4 142.49L532.9 147.99M527.4 147.99L532.9 142.49" stroke="#006400" stroke-width="1.6" fill="none"/><path d="M540.55 141.68L546.05 147.18M540.55 147.18L546.05 141.68" stroke="#006400" stroke-width="1.6" fill="none"/><path d="M553.7 141.01L559.2 146.51M553.7 146.51L559.2 141.01" stroke="#006400" stroke-width="1.6" fill="none"/><path d="M566.85 140.5L572.35 146M566.85 146L572.35 140.5" stroke="#006400" stroke-width="1.6" fill="none"/><path d="M580 140.04L585.5 145.54M580 145.54L585.5 140.04" stroke="#006400" stroke-width="1.6" fill="none"/><path d="M593.15 139.64L598.65 145.14M593.15 145.14L598.65 139.64" stroke="#006400" stroke-width="1.6" fill="none"/><path d="M606.3 139.28L611.8 144.78M606.3 144.78L611.8 139.28" stroke="#006400" stroke-width="1.6" fill="none"/><path d="M619.45 138.92L624.95 144.42M619.45 144.42L624.95 138.92" stroke="#006400" stroke-width="1.6" fill="none"/><path d="M632.6 138.67L638.1 144.17M632.6 144.17L638.1 138.67" stroke="#006400" stroke-width="1.6" fill="none"/>
<g clip-path="url(#cb)"><polyline points="385.5,214.5 398.65,168.91 411.8,134.18 424.95,108.01 438.1,87.87 451.25,72.87 464.4,60.89 477.55,51.81 490.7,44.62 503.85,38.75 517,34.93 530.15,31.36 543.3,28.2 556.45,25.65 569.6,24.37 582.75,23.1 595.9,22.08 609.05,21.21 622.2,20.6 635.35,20.19 648.5,19.78" fill="none" stroke="#0000ff" stroke-width="1.6" stroke-linejoin="round"/></g><circle cx="398.65" cy="168.91" r="2.65" stroke="#0000ff" stroke-width="1.6" fill="none"/><circle cx="411.8" cy="134.18" r="2.65" stroke="#0000ff" stroke-width="1.6" fill="none"/><circle cx="424.95" cy="108.01" r="2.65" stroke="#0000ff" stroke-width="1.6" fill="none"/><circle cx="438.1" cy="87.87" r="2.65" stroke="#0000ff" stroke-width="1.6" fill="none"/><circle cx="451.25" cy="72.87" r="2.65" stroke="#0000ff" stroke-width="1.6" fill="none"/><circle cx="464.4" cy="60.89" r="2.65" stroke="#0000ff" stroke-width="1.6" fill="none"/><circle cx="477.55" cy="51.81" r="2.65" stroke="#0000ff" stroke-width="1.6" fill="none"/><circle cx="490.7" cy="44.62" r="2.65" stroke="#0000ff" stroke-width="1.6" fill="none"/><circle cx="503.85" cy="38.75" r="2.65" stroke="#0000ff" stroke-width="1.6" fill="none"/><circle cx="517" cy="34.93" r="2.65" stroke="#0000ff" stroke-width="1.6" fill="none"/><circle cx="530.15" cy="31.36" r="2.65" stroke="#0000ff" stroke-width="1.6" fill="none"/><circle cx="543.3" cy="28.2" r="2.65" stroke="#0000ff" stroke-width="1.6" fill="none"/><circle cx="556.45" cy="25.65" r="2.65" stroke="#0000ff" stroke-width="1.6" fill="none"/><circle cx="569.6" cy="24.37" r="2.65" stroke="#0000ff" stroke-width="1.6" fill="none"/><circle cx="582.75" cy="23.1" r="2.65" stroke="#0000ff" stroke-width="1.6" fill="none"/><circle cx="595.9" cy="22.08" r="2.65" stroke="#0000ff" stroke-width="1.6" fill="none"/><circle cx="609.05" cy="21.21" r="2.65" stroke="#0000ff" stroke-width="1.6" fill="none"/><circle cx="622.2" cy="20.6" r="2.65" stroke="#0000ff" stroke-width="1.6" fill="none"/><circle cx="635.35" cy="20.19" r="2.65" stroke="#0000ff" stroke-width="1.6" fill="none"/>
<g clip-path="url(#cb)"><polyline points="385.5,214.5 398.65,192.31 411.8,177.58 424.95,167.02 438.1,159.68 451.25,155.44 464.4,152.08 477.55,149.73 490.7,148.05 503.85,146.82 517,145.75 530.15,144.88 543.3,144.27 556.45,143.66 569.6,143.2 582.75,142.79 595.9,142.39 609.05,141.98 622.2,141.52 635.35,141.31 648.5,140.91" fill="none" stroke="#ff00ff" stroke-width="1.6" stroke-linejoin="round"/></g><rect x="396" y="189.66" width="5.3" height="5.3" stroke="#ff00ff" stroke-width="1.6" fill="none"/><rect x="409.15" y="174.93" width="5.3" height="5.3" stroke="#ff00ff" stroke-width="1.6" fill="none"/><rect x="422.3" y="164.37" width="5.3" height="5.3" stroke="#ff00ff" stroke-width="1.6" fill="none"/><rect x="435.45" y="157.03" width="5.3" height="5.3" stroke="#ff00ff" stroke-width="1.6" fill="none"/><rect x="448.6" y="152.79" width="5.3" height="5.3" stroke="#ff00ff" stroke-width="1.6" fill="none"/><rect x="461.75" y="149.43" width="5.3" height="5.3" stroke="#ff00ff" stroke-width="1.6" fill="none"/><rect x="474.9" y="147.08" width="5.3" height="5.3" stroke="#ff00ff" stroke-width="1.6" fill="none"/><rect x="488.05" y="145.4" width="5.3" height="5.3" stroke="#ff00ff" stroke-width="1.6" fill="none"/><rect x="501.2" y="144.17" width="5.3" height="5.3" stroke="#ff00ff" stroke-width="1.6" fill="none"/><rect x="514.35" y="143.1" width="5.3" height="5.3" stroke="#ff00ff" stroke-width="1.6" fill="none"/><rect x="527.5" y="142.23" width="5.3" height="5.3" stroke="#ff00ff" stroke-width="1.6" fill="none"/><rect x="540.65" y="141.62" width="5.3" height="5.3" stroke="#ff00ff" stroke-width="1.6" fill="none"/><rect x="553.8" y="141.01" width="5.3" height="5.3" stroke="#ff00ff" stroke-width="1.6" fill="none"/><rect x="566.95" y="140.55" width="5.3" height="5.3" stroke="#ff00ff" stroke-width="1.6" fill="none"/><rect x="580.1" y="140.14" width="5.3" height="5.3" stroke="#ff00ff" stroke-width="1.6" fill="none"/><rect x="593.25" y="139.74" width="5.3" height="5.3" stroke="#ff00ff" stroke-width="1.6" fill="none"/><rect x="606.4" y="139.33" width="5.3" height="5.3" stroke="#ff00ff" stroke-width="1.6" fill="none"/><rect x="619.55" y="138.87" width="5.3" height="5.3" stroke="#ff00ff" stroke-width="1.6" fill="none"/><rect x="632.7" y="138.66" width="5.3" height="5.3" stroke="#ff00ff" stroke-width="1.6" fill="none"/>
<g clip-path="url(#cb)"><polyline points="385.5,214.5 398.65,197.87 411.8,187.67 424.95,182.06 438.1,179.31 451.25,179.06 464.4,179.82 477.55,181.09 490.7,183.13 503.85,185.02 517,186.86 530.15,188.54 543.3,190.02 556.45,191.09 569.6,192.11 582.75,192.98 595.9,193.84 609.05,194.46 622.2,194.87 635.35,195.32 648.5,195.73" fill="none" stroke="#ffa500" stroke-width="1.6" stroke-linejoin="round"/></g><path d="M398.65 194.87L395.95 199.62H401.35Z" fill="#ffa500" stroke="#ffa500" stroke-width="1.2800000000000002" stroke-linejoin="miter"/><path d="M411.8 184.67L409.1 189.42H414.5Z" fill="#ffa500" stroke="#ffa500" stroke-width="1.2800000000000002" stroke-linejoin="miter"/><path d="M424.95 179.06L422.25 183.81H427.65Z" fill="#ffa500" stroke="#ffa500" stroke-width="1.2800000000000002" stroke-linejoin="miter"/><path d="M438.1 176.31L435.4 181.06H440.8Z" fill="#ffa500" stroke="#ffa500" stroke-width="1.2800000000000002" stroke-linejoin="miter"/><path d="M451.25 176.06L448.55 180.81H453.95Z" fill="#ffa500" stroke="#ffa500" stroke-width="1.2800000000000002" stroke-linejoin="miter"/><path d="M464.4 176.82L461.7 181.57H467.1Z" fill="#ffa500" stroke="#ffa500" stroke-width="1.2800000000000002" stroke-linejoin="miter"/><path d="M477.55 178.09L474.85 182.84H480.25Z" fill="#ffa500" stroke="#ffa500" stroke-width="1.2800000000000002" stroke-linejoin="miter"/><path d="M490.7 180.13L488 184.88H493.4Z" fill="#ffa500" stroke="#ffa500" stroke-width="1.2800000000000002" stroke-linejoin="miter"/><path d="M503.85 182.02L501.15 186.77H506.55Z" fill="#ffa500" stroke="#ffa500" stroke-width="1.2800000000000002" stroke-linejoin="miter"/><path d="M517 183.86L514.3 188.61H519.7Z" fill="#ffa500" stroke="#ffa500" stroke-width="1.2800000000000002" stroke-linejoin="miter"/><path d="M530.15 185.54L527.45 190.29H532.85Z" fill="#ffa500" stroke="#ffa500" stroke-width="1.2800000000000002" stroke-linejoin="miter"/><path d="M543.3 187.02L540.6 191.77H546Z" fill="#ffa500" stroke="#ffa500" stroke-width="1.2800000000000002" stroke-linejoin="miter"/><path d="M556.45 188.09L553.75 192.84H559.15Z" fill="#ffa500" stroke="#ffa500" stroke-width="1.2800000000000002" stroke-linejoin="miter"/><path d="M569.6 189.11L566.9 193.86H572.3Z" fill="#ffa500" stroke="#ffa500" stroke-width="1.2800000000000002" stroke-linejoin="miter"/><path d="M582.75 189.98L580.05 194.73H585.45Z" fill="#ffa500" stroke="#ffa500" stroke-width="1.2800000000000002" stroke-linejoin="miter"/><path d="M595.9 190.84L593.2 195.59H598.6Z" fill="#ffa500" stroke="#ffa500" stroke-width="1.2800000000000002" stroke-linejoin="miter"/><path d="M609.05 191.46L606.35 196.21H611.75Z" fill="#ffa500" stroke="#ffa500" stroke-width="1.2800000000000002" stroke-linejoin="miter"/><path d="M622.2 191.87L619.5 196.62H624.9Z" fill="#ffa500" stroke="#ffa500" stroke-width="1.2800000000000002" stroke-linejoin="miter"/><path d="M635.35 192.32L632.65 197.07H638.05Z" fill="#ffa500" stroke="#ffa500" stroke-width="1.2800000000000002" stroke-linejoin="miter"/>
<rect x="385.5" y="10.5" width="263" height="204" fill="none" stroke="#000" stroke-opacity="0.52" stroke-width="1" stroke-linejoin="round"/>
<text transform="translate(385.5 226.1) scale(0.9174 1)" text-anchor="middle" >3.0</text>
<text transform="translate(451.25 226.1) scale(0.9174 1)" text-anchor="middle" >3.5</text>
<text transform="translate(517 226.1) scale(0.9174 1)" text-anchor="middle" >4.0</text>
<text transform="translate(582.75 226.1) scale(0.9174 1)" text-anchor="middle" >4.5</text>
<text transform="translate(648.5 226.1) scale(0.9174 1)" text-anchor="middle" >5.0</text>
<text transform="translate(380.2 217.8) scale(0.9174 1)" text-anchor="end" >0.0000</text>
<text transform="translate(380.2 192.3) scale(0.9174 1)" text-anchor="end" >0.0005</text>
<text transform="translate(380.2 166.8) scale(0.9174 1)" text-anchor="end" >0.0010</text>
<text transform="translate(380.2 141.3) scale(0.9174 1)" text-anchor="end" >0.0015</text>
<text transform="translate(380.2 115.8) scale(0.9174 1)" text-anchor="end" >0.0020</text>
<text transform="translate(380.2 90.3) scale(0.9174 1)" text-anchor="end" >0.0025</text>
<text transform="translate(380.2 64.8) scale(0.9174 1)" text-anchor="end" >0.0030</text>
<text transform="translate(380.2 39.3) scale(0.9174 1)" text-anchor="end" >0.0035</text>
<text transform="translate(380.2 13.8) scale(0.9174 1)" text-anchor="end" >0.0040</text>
<path d="M385.5 214.5v-2M385.5 10.5v2M451.25 214.5v-2M451.25 10.5v2M517 214.5v-2M517 10.5v2M582.75 214.5v-2M582.75 10.5v2M648.5 214.5v-2M648.5 10.5v2M385.5 214.5h2M648.5 214.5h-2M385.5 189h2M648.5 189h-2M385.5 163.5h2M648.5 163.5h-2M385.5 138h2M648.5 138h-2M385.5 112.5h2M648.5 112.5h-2M385.5 87h2M648.5 87h-2M385.5 61.5h2M648.5 61.5h-2M385.5 36h2M648.5 36h-2M385.5 10.5h2M648.5 10.5h-2" stroke="#000" stroke-opacity="0.22" stroke-width="0.7" fill="none"/>
<text transform="translate(517 239.1) scale(0.9174 1)" text-anchor="middle" >N−N distance (Å)</text>
<text transform="translate(341.1 112.5) rotate(-90) scale(0.9174 1)" text-anchor="middle" x="0" y="0">Energy (E<tspan font-size="7.67" dy="2">h</tspan><tspan dy="-2">)</tspan></text>
<text transform="translate(388.8 19.9) scale(0.9174 1)" text-anchor="start" font-size="8.39">(b)</text>
<clipPath id="cc"><rect x="53.5" y="253.1" width="263" height="203.4"/></clipPath>
<g clip-path="url(#cc)"><polyline points="53.77,307.91 59.88,377.86 65.99,409.51 72.1,423.35 78.21,426.67 84.32,424.64 90.43,420.49 96.54,415.6 102.65,410.8 108.76,406.56 114.87,402.96 120.98,400.28 127.09,398.71 133.2,397.79 139.31,396.87 145.42,396.13 151.53,395.67 157.64,395.3 163.75,395.02 169.86,394.93 175.97,394.84 182.08,394.75 188.19,394.65 194.3,394.56 200.41,394.55 206.52,394.54 212.63,394.53 218.74,394.52 224.85,394.52 230.96,394.51 237.07,394.5 243.18,394.49 249.29,394.48 255.4,394.47 261.51,394.46 267.62,394.45 273.73,394.44 279.84,394.43 285.95,394.42 292.06,394.41 298.17,394.4 304.28,394.4 310.39,394.39 316.5,394.38" fill="none" stroke="#ff0000" stroke-width="1.6" stroke-linejoin="round"/></g><path d="M57.08 377.86H62.68M59.88 375.06V380.66" stroke="#ff0000" stroke-width="1.6" fill="none"/><path d="M63.19 409.51H68.79M65.99 406.71V412.31" stroke="#ff0000" stroke-width="1.6" fill="none"/><path d="M69.3 423.35H74.9M72.1 420.55V426.15" stroke="#ff0000" stroke-width="1.6" fill="none"/><path d="M75.41 426.67H81.01M78.21 423.87V429.47" stroke="#ff0000" stroke-width="1.6" fill="none"/><path d="M81.52 424.64H87.12M84.32 421.84V427.44" stroke="#ff0000" stroke-width="1.6" fill="none"/><path d="M87.63 420.49H93.23M90.43 417.69V423.29" stroke="#ff0000" stroke-width="1.6" fill="none"/><path d="M93.74 415.6H99.34M96.54 412.8V418.4" stroke="#ff0000" stroke-width="1.6" fill="none"/><path d="M99.85 410.8H105.45M102.65 408V413.6" stroke="#ff0000" stroke-width="1.6" fill="none"/><path d="M105.96 406.56H111.56M108.76 403.76V409.36" stroke="#ff0000" stroke-width="1.6" fill="none"/><path d="M112.07 402.96H117.67M114.87 400.16V405.76" stroke="#ff0000" stroke-width="1.6" fill="none"/><path d="M118.18 400.28H123.78M120.98 397.48V403.08" stroke="#ff0000" stroke-width="1.6" fill="none"/><path d="M124.29 398.71H129.89M127.09 395.91V401.51" stroke="#ff0000" stroke-width="1.6" fill="none"/><path d="M130.4 397.79H136M133.2 394.99V400.59" stroke="#ff0000" stroke-width="1.6" fill="none"/><path d="M136.51 396.87H142.11M139.31 394.07V399.67" stroke="#ff0000" stroke-width="1.6" fill="none"/><path d="M142.62 396.13H148.22M145.42 393.33V398.93" stroke="#ff0000" stroke-width="1.6" fill="none"/><path d="M148.73 395.67H154.33M151.53 392.87V398.47" stroke="#ff0000" stroke-width="1.6" fill="none"/><path d="M154.84 395.3H160.44M157.64 392.5V398.1" stroke="#ff0000" stroke-width="1.6" fill="none"/><path d="M160.95 395.02H166.55M163.75 392.22V397.82" stroke="#ff0000" stroke-width="1.6" fill="none"/><path d="M167.06 394.93H172.66M169.86 392.13V397.73" stroke="#ff0000" stroke-width="1.6" fill="none"/><path d="M173.17 394.84H178.77M175.97 392.04V397.64" stroke="#ff0000" stroke-width="1.6" fill="none"/><path d="M179.28 394.75H184.88M182.08 391.95V397.55" stroke="#ff0000" stroke-width="1.6" fill="none"/><path d="M185.39 394.65H190.99M188.19 391.85V397.45" stroke="#ff0000" stroke-width="1.6" fill="none"/><path d="M191.5 394.56H197.1M194.3 391.76V397.36" stroke="#ff0000" stroke-width="1.6" fill="none"/><path d="M197.61 394.55H203.21M200.41 391.75V397.35" stroke="#ff0000" stroke-width="1.6" fill="none"/><path d="M203.72 394.54H209.32M206.52 391.74V397.34" stroke="#ff0000" stroke-width="1.6" fill="none"/><path d="M209.83 394.53H215.43M212.63 391.73V397.33" stroke="#ff0000" stroke-width="1.6" fill="none"/><path d="M215.94 394.52H221.54M218.74 391.72V397.32" stroke="#ff0000" stroke-width="1.6" fill="none"/><path d="M222.05 394.52H227.65M224.85 391.72V397.32" stroke="#ff0000" stroke-width="1.6" fill="none"/><path d="M228.16 394.51H233.76M230.96 391.71V397.31" stroke="#ff0000" stroke-width="1.6" fill="none"/><path d="M234.27 394.5H239.87M237.07 391.7V397.3" stroke="#ff0000" stroke-width="1.6" fill="none"/><path d="M240.38 394.49H245.98M243.18 391.69V397.29" stroke="#ff0000" stroke-width="1.6" fill="none"/><path d="M246.49 394.48H252.09M249.29 391.68V397.28" stroke="#ff0000" stroke-width="1.6" fill="none"/><path d="M252.6 394.47H258.2M255.4 391.67V397.27" stroke="#ff0000" stroke-width="1.6" fill="none"/><path d="M258.71 394.46H264.31M261.51 391.66V397.26" stroke="#ff0000" stroke-width="1.6" fill="none"/><path d="M264.82 394.45H270.42M267.62 391.65V397.25" stroke="#ff0000" stroke-width="1.6" fill="none"/><path d="M270.93 394.44H276.53M273.73 391.64V397.24" stroke="#ff0000" stroke-width="1.6" fill="none"/><path d="M277.04 394.43H282.64M279.84 391.63V397.23" stroke="#ff0000" stroke-width="1.6" fill="none"/><path d="M283.15 394.42H288.75M285.95 391.62V397.22" stroke="#ff0000" stroke-width="1.6" fill="none"/><path d="M289.26 394.41H294.86M292.06 391.61V397.21" stroke="#ff0000" stroke-width="1.6" fill="none"/><path d="M295.37 394.4H300.97M298.17 391.6V397.2" stroke="#ff0000" stroke-width="1.6" fill="none"/><path d="M301.48 394.4H307.08M304.28 391.6V397.2" stroke="#ff0000" stroke-width="1.6" fill="none"/><path d="M307.59 394.39H313.19M310.39 391.59V397.19" stroke="#ff0000" stroke-width="1.6" fill="none"/>
<g clip-path="url(#cc)"><polyline points="53.77,284.47 59.88,353.87 65.99,387.18 72.1,400.56 78.21,404.8 84.32,403.61 90.43,399.64 96.54,394.84 102.65,390.59 108.76,386.44 114.87,382.84 120.98,379.98 127.09,377.68 133.2,375.83 139.31,374.63 145.42,373.8 151.53,373.25 157.64,372.97 163.75,372.88 169.86,372.87 175.97,372.86 182.08,372.85 188.19,372.84 194.3,372.83 200.41,372.83 206.52,372.83 212.63,372.82 218.74,372.82 224.85,372.82 230.96,372.82 237.07,372.81 243.18,372.81 249.29,372.81 255.4,372.81 261.51,372.81 267.62,372.8 273.73,372.8 279.84,372.8 285.95,372.8 292.06,372.79 298.17,372.79 304.28,372.79 310.39,372.79 316.5,372.78" fill="none" stroke="#006400" stroke-width="1.6" stroke-linejoin="round"/></g><path d="M57.13 351.12L62.63 356.62M57.13 356.62L62.63 351.12" stroke="#006400" stroke-width="1.6" fill="none"/><path d="M63.24 384.43L68.74 389.93M63.24 389.93L68.74 384.43" stroke="#006400" stroke-width="1.6" fill="none"/><path d="M69.35 397.81L74.85 403.31M69.35 403.31L74.85 397.81" stroke="#006400" stroke-width="1.6" fill="none"/><path d="M75.46 402.05L80.96 407.55M75.46 407.55L80.96 402.05" stroke="#006400" stroke-width="1.6" fill="none"/><path d="M81.57 400.86L87.07 406.36M81.57 406.36L87.07 400.86" stroke="#006400" stroke-width="1.6" fill="none"/><path d="M87.68 396.89L93.18 402.39M87.68 402.39L93.18 396.89" stroke="#006400" stroke-width="1.6" fill="none"/><path d="M93.79 392.09L99.29 397.59M93.79 397.59L99.29 392.09" stroke="#006400" stroke-width="1.6" fill="none"/><path d="M99.9 387.84L105.4 393.34M99.9 393.34L105.4 387.84" stroke="#006400" stroke-width="1.6" fill="none"/><path d="M106.01 383.69L111.51 389.19M106.01 389.19L111.51 383.69" stroke="#006400" stroke-width="1.6" fill="none"/><path d="M112.12 380.09L117.62 385.59M112.12 385.59L117.62 380.09" stroke="#006400" stroke-width="1.6" fill="none"/><path d="M118.23 377.23L123.73 382.73M118.23 382.73L123.73 377.23" stroke="#006400" stroke-width="1.6" fill="none"/><path d="M124.34 374.93L129.84 380.43M124.34 380.43L129.84 374.93" stroke="#006400" stroke-width="1.6" fill="none"/><path d="M130.45 373.08L135.95 378.58M130.45 378.58L135.95 373.08" stroke="#006400" stroke-width="1.6" fill="none"/><path d="M136.56 371.88L142.06 377.38M136.56 377.38L142.06 371.88" stroke="#006400" stroke-width="1.6" fill="none"/><path d="M142.67 371.05L148.17 376.55M142.67 376.55L148.17 371.05" stroke="#006400" stroke-width="1.6" fill="none"/><path d="M148.78 370.5L154.28 376M148.78 376L154.28 370.5" stroke="#006400" stroke-width="1.6" fill="none"/><path d="M154.89 370.22L160.39 375.72M154.89 375.72L160.39 370.22" stroke="#006400" stroke-width="1.6" fill="none"/><path d="M161 370.13L166.5 375.63M161 375.63L166.5 370.13" stroke="#006400" stroke-width="1.6" fill="none"/><path d="M167.11 370.12L172.61 375.62M167.11 375.62L172.61 370.12" stroke="#006400" stroke-width="1.6" fill="none"/><path d="M173.22 370.11L178.72 375.61M173.22 375.61L178.72 370.11" stroke="#006400" stroke-width="1.6" fill="none"/><path d="M179.33 370.1L184.83 375.6M179.33 375.6L184.83 370.1" stroke="#006400" stroke-width="1.6" fill="none"/><path d="M185.44 370.09L190.94 375.59M185.44 375.59L190.94 370.09" stroke="#006400" stroke-width="1.6" fill="none"/><path d="M191.55 370.08L197.05 375.58M191.55 375.58L197.05 370.08" stroke="#006400" stroke-width="1.6" fill="none"/><path d="M197.66 370.08L203.16 375.58M197.66 375.58L203.16 370.08" stroke="#006400" stroke-width="1.6" fill="none"/><path d="M203.77 370.08L209.27 375.58M203.77 375.58L209.27 370.08" stroke="#006400" stroke-width="1.6" fill="none"/><path d="M209.88 370.07L215.38 375.57M209.88 375.57L215.38 370.07" stroke="#006400" stroke-width="1.6" fill="none"/><path d="M215.99 370.07L221.49 375.57M215.99 375.57L221.49 370.07" stroke="#006400" stroke-width="1.6" fill="none"/><path d="M222.1 370.07L227.6 375.57M222.1 375.57L227.6 370.07" stroke="#006400" stroke-width="1.6" fill="none"/><path d="M228.21 370.07L233.71 375.57M228.21 375.57L233.71 370.07" stroke="#006400" stroke-width="1.6" fill="none"/><path d="M234.32 370.06L239.82 375.56M234.32 375.56L239.82 370.06" stroke="#006400" stroke-width="1.6" fill="none"/><path d="M240.43 370.06L245.93 375.56M240.43 375.56L245.93 370.06" stroke="#006400" stroke-width="1.6" fill="none"/><path d="M246.54 370.06L252.04 375.56M246.54 375.56L252.04 370.06" stroke="#006400" stroke-width="1.6" fill="none"/><path d="M252.65 370.06L258.15 375.56M252.65 375.56L258.15 370.06" stroke="#006400" stroke-width="1.6" fill="none"/><path d="M258.76 370.06L264.26 375.56M258.76 375.56L264.26 370.06" stroke="#006400" stroke-width="1.6" fill="none"/><path d="M264.87 370.05L270.37 375.55M264.87 375.55L270.37 370.05" stroke="#006400" stroke-width="1.6" fill="none"/><path d="M270.98 370.05L276.48 375.55M270.98 375.55L276.48 370.05" stroke="#006400" stroke-width="1.6" fill="none"/><path d="M277.09 370.05L282.59 375.55M277.09 375.55L282.59 370.05" stroke="#006400" stroke-width="1.6" fill="none"/><path d="M283.2 370.05L288.7 375.55M283.2 375.55L288.7 370.05" stroke="#006400" stroke-width="1.6" fill="none"/><path d="M289.31 370.04L294.81 375.54M289.31 375.54L294.81 370.04" stroke="#006400" stroke-width="1.6" fill="none"/><path d="M295.42 370.04L300.92 375.54M295.42 375.54L300.92 370.04" stroke="#006400" stroke-width="1.6" fill="none"/><path d="M301.53 370.04L307.03 375.54M301.53 375.54L307.03 370.04" stroke="#006400" stroke-width="1.6" fill="none"/><path d="M307.64 370.04L313.14 375.54M307.64 375.54L313.14 370.04" stroke="#006400" stroke-width="1.6" fill="none"/>
<g clip-path="url(#cc)"><polyline points="53.77,272.2 59.88,339.1 65.99,370.85 72.1,383.49 78.21,386.26 84.32,383.86 90.43,379.61 96.54,374.72 102.65,370.02 108.76,365.4 114.87,361.9 120.98,358.57 127.09,356.17 133.2,354.59 139.31,353.28 145.42,352.16 151.53,351.4 157.64,350.83 163.75,350.26 169.86,349.97 175.97,349.67 182.08,349.47 188.19,349.36 194.3,349.25 200.41,349.24 206.52,349.22 212.63,349.2 218.74,349.18 224.85,349.16 230.96,349.14 237.07,349.12 243.18,349.11 249.29,349.09 255.4,349.07 261.51,349.05 267.62,349.03 273.73,349.01 279.84,349 285.95,348.98 292.06,348.96 298.17,348.94 304.28,348.92 310.39,348.9 316.5,348.88" fill="none" stroke="#0000ff" stroke-width="1.6" stroke-linejoin="round"/></g><circle cx="59.88" cy="339.1" r="2.65" stroke="#0000ff" stroke-width="1.6" fill="none"/><circle cx="65.99" cy="370.85" r="2.65" stroke="#0000ff" stroke-width="1.6" fill="none"/><circle cx="72.1" cy="383.49" r="2.65" stroke="#0000ff" stroke-width="1.6" fill="none"/><circle cx="78.21" cy="386.26" r="2.65" stroke="#0000ff" stroke-width="1.6" fill="none"/><circle cx="84.32" cy="383.86" r="2.65" stroke="#0000ff" stroke-width="1.6" fill="none"/><circle cx="90.43" cy="379.61" r="2.65" stroke="#0000ff" stroke-width="1.6" fill="none"/><circle cx="96.54" cy="374.72" r="2.65" stroke="#0000ff" stroke-width="1.6" fill="none"/><circle cx="102.65" cy="370.02" r="2.65" stroke="#0000ff" stroke-width="1.6" fill="none"/><circle cx="108.76" cy="365.4" r="2.65" stroke="#0000ff" stroke-width="1.6" fill="none"/><circle cx="114.87" cy="361.9" r="2.65" stroke="#0000ff" stroke-width="1.6" fill="none"/><circle cx="120.98" cy="358.57" r="2.65" stroke="#0000ff" stroke-width="1.6" fill="none"/><circle cx="127.09" cy="356.17" r="2.65" stroke="#0000ff" stroke-width="1.6" fill="none"/><circle cx="133.2" cy="354.59" r="2.65" stroke="#0000ff" stroke-width="1.6" fill="none"/><circle cx="139.31" cy="353.28" r="2.65" stroke="#0000ff" stroke-width="1.6" fill="none"/><circle cx="145.42" cy="352.16" r="2.65" stroke="#0000ff" stroke-width="1.6" fill="none"/><circle cx="151.53" cy="351.4" r="2.65" stroke="#0000ff" stroke-width="1.6" fill="none"/><circle cx="157.64" cy="350.83" r="2.65" stroke="#0000ff" stroke-width="1.6" fill="none"/><circle cx="163.75" cy="350.26" r="2.65" stroke="#0000ff" stroke-width="1.6" fill="none"/><circle cx="169.86" cy="349.97" r="2.65" stroke="#0000ff" stroke-width="1.6" fill="none"/><circle cx="175.97" cy="349.67" r="2.65" stroke="#0000ff" stroke-width="1.6" fill="none"/><circle cx="182.08" cy="349.47" r="2.65" stroke="#0000ff" stroke-width="1.6" fill="none"/><circle cx="188.19" cy="349.36" r="2.65" stroke="#0000ff" stroke-width="1.6" fill="none"/><circle cx="194.3" cy="349.25" r="2.65" stroke="#0000ff" stroke-width="1.6" fill="none"/><circle cx="200.41" cy="349.24" r="2.65" stroke="#0000ff" stroke-width="1.6" fill="none"/><circle cx="206.52" cy="349.22" r="2.65" stroke="#0000ff" stroke-width="1.6" fill="none"/><circle cx="212.63" cy="349.2" r="2.65" stroke="#0000ff" stroke-width="1.6" fill="none"/><circle cx="218.74" cy="349.18" r="2.65" stroke="#0000ff" stroke-width="1.6" fill="none"/><circle cx="224.85" cy="349.16" r="2.65" stroke="#0000ff" stroke-width="1.6" fill="none"/><circle cx="230.96" cy="349.14" r="2.65" stroke="#0000ff" stroke-width="1.6" fill="none"/><circle cx="237.07" cy="349.12" r="2.65" stroke="#0000ff" stroke-width="1.6" fill="none"/><circle cx="243.18" cy="349.11" r="2.65" stroke="#0000ff" stroke-width="1.6" fill="none"/><circle cx="249.29" cy="349.09" r="2.65" stroke="#0000ff" stroke-width="1.6" fill="none"/><circle cx="255.4" cy="349.07" r="2.65" stroke="#0000ff" stroke-width="1.6" fill="none"/><circle cx="261.51" cy="349.05" r="2.65" stroke="#0000ff" stroke-width="1.6" fill="none"/><circle cx="267.62" cy="349.03" r="2.65" stroke="#0000ff" stroke-width="1.6" fill="none"/><circle cx="273.73" cy="349.01" r="2.65" stroke="#0000ff" stroke-width="1.6" fill="none"/><circle cx="279.84" cy="349" r="2.65" stroke="#0000ff" stroke-width="1.6" fill="none"/><circle cx="285.95" cy="348.98" r="2.65" stroke="#0000ff" stroke-width="1.6" fill="none"/><circle cx="292.06" cy="348.96" r="2.65" stroke="#0000ff" stroke-width="1.6" fill="none"/><circle cx="298.17" cy="348.94" r="2.65" stroke="#0000ff" stroke-width="1.6" fill="none"/><circle cx="304.28" cy="348.92" r="2.65" stroke="#0000ff" stroke-width="1.6" fill="none"/><circle cx="310.39" cy="348.9" r="2.65" stroke="#0000ff" stroke-width="1.6" fill="none"/>
<g clip-path="url(#cc)"><polyline points="53.77,314.28 59.88,384.32 65.99,415.6 72.1,428.89 78.21,432.49 84.32,430.64 90.43,426.21 96.54,421.69 102.65,417.08 108.76,412.93 114.87,409.33 120.98,406.37 127.09,404.16 133.2,403.22 139.31,402 145.42,401.16 151.53,400.49 157.64,400.01 163.75,399.72 169.86,399.52 175.97,399.46 182.08,399.39 188.19,399.33 194.3,399.27 200.41,399.26 206.52,399.25 212.63,399.24 218.74,399.23 224.85,399.22 230.96,399.21 237.07,399.2 243.18,399.19 249.29,399.18 255.4,399.18 261.51,399.17 267.62,399.16 273.73,399.15 279.84,399.14 285.95,399.13 292.06,399.12 298.17,399.11 304.28,399.1 310.39,399.09 316.5,399.08" fill="none" stroke="#ff00ff" stroke-width="1.6" stroke-linejoin="round"/></g><rect x="57.23" y="381.67" width="5.3" height="5.3" stroke="#ff00ff" stroke-width="1.6" fill="none"/><rect x="63.34" y="412.95" width="5.3" height="5.3" stroke="#ff00ff" stroke-width="1.6" fill="none"/><rect x="69.45" y="426.24" width="5.3" height="5.3" stroke="#ff00ff" stroke-width="1.6" fill="none"/><rect x="75.56" y="429.84" width="5.3" height="5.3" stroke="#ff00ff" stroke-width="1.6" fill="none"/><rect x="81.67" y="427.99" width="5.3" height="5.3" stroke="#ff00ff" stroke-width="1.6" fill="none"/><rect x="87.78" y="423.56" width="5.3" height="5.3" stroke="#ff00ff" stroke-width="1.6" fill="none"/><rect x="93.89" y="419.04" width="5.3" height="5.3" stroke="#ff00ff" stroke-width="1.6" fill="none"/><rect x="100" y="414.43" width="5.3" height="5.3" stroke="#ff00ff" stroke-width="1.6" fill="none"/><rect x="106.11" y="410.28" width="5.3" height="5.3" stroke="#ff00ff" stroke-width="1.6" fill="none"/><rect x="112.22" y="406.68" width="5.3" height="5.3" stroke="#ff00ff" stroke-width="1.6" fill="none"/><rect x="118.33" y="403.72" width="5.3" height="5.3" stroke="#ff00ff" stroke-width="1.6" fill="none"/><rect x="124.44" y="401.51" width="5.3" height="5.3" stroke="#ff00ff" stroke-width="1.6" fill="none"/><rect x="130.55" y="400.57" width="5.3" height="5.3" stroke="#ff00ff" stroke-width="1.6" fill="none"/><rect x="136.66" y="399.35" width="5.3" height="5.3" stroke="#ff00ff" stroke-width="1.6" fill="none"/><rect x="142.77" y="398.51" width="5.3" height="5.3" stroke="#ff00ff" stroke-width="1.6" fill="none"/><rect x="148.88" y="397.84" width="5.3" height="5.3" stroke="#ff00ff" stroke-width="1.6" fill="none"/><rect x="154.99" y="397.36" width="5.3" height="5.3" stroke="#ff00ff" stroke-width="1.6" fill="none"/><rect x="161.1" y="397.07" width="5.3" height="5.3" stroke="#ff00ff" stroke-width="1.6" fill="none"/><rect x="167.21" y="396.87" width="5.3" height="5.3" stroke="#ff00ff" stroke-width="1.6" fill="none"/><rect x="173.32" y="396.81" width="5.3" height="5.3" stroke="#ff00ff" stroke-width="1.6" fill="none"/><rect x="179.43" y="396.74" width="5.3" height="5.3" stroke="#ff00ff" stroke-width="1.6" fill="none"/><rect x="185.54" y="396.68" width="5.3" height="5.3" stroke="#ff00ff" stroke-width="1.6" fill="none"/><rect x="191.65" y="396.62" width="5.3" height="5.3" stroke="#ff00ff" stroke-width="1.6" fill="none"/><rect x="197.76" y="396.61" width="5.3" height="5.3" stroke="#ff00ff" stroke-width="1.6" fill="none"/><rect x="203.87" y="396.6" width="5.3" height="5.3" stroke="#ff00ff" stroke-width="1.6" fill="none"/><rect x="209.98" y="396.59" width="5.3" height="5.3" stroke="#ff00ff" stroke-width="1.6" fill="none"/><rect x="216.09" y="396.58" width="5.3" height="5.3" stroke="#ff00ff" stroke-width="1.6" fill="none"/><rect x="222.2" y="396.57" width="5.3" height="5.3" stroke="#ff00ff" stroke-width="1.6" fill="none"/><rect x="228.31" y="396.56" width="5.3" height="5.3" stroke="#ff00ff" stroke-width="1.6" fill="none"/><rect x="234.42" y="396.55" width="5.3" height="5.3" stroke="#ff00ff" stroke-width="1.6" fill="none"/><rect x="240.53" y="396.54" width="5.3" height="5.3" stroke="#ff00ff" stroke-width="1.6" fill="none"/><rect x="246.64" y="396.53" width="5.3" height="5.3" stroke="#ff00ff" stroke-width="1.6" fill="none"/><rect x="252.75" y="396.53" width="5.3" height="5.3" stroke="#ff00ff" stroke-width="1.6" fill="none"/><rect x="258.86" y="396.52" width="5.3" height="5.3" stroke="#ff00ff" stroke-width="1.6" fill="none"/><rect x="264.97" y="396.51" width="5.3" height="5.3" stroke="#ff00ff" stroke-width="1.6" fill="none"/><rect x="271.08" y="396.5" width="5.3" height="5.3" stroke="#ff00ff" stroke-width="1.6" fill="none"/><rect x="277.19" y="396.49" width="5.3" height="5.3" stroke="#ff00ff" stroke-width="1.6" fill="none"/><rect x="283.3" y="396.48" width="5.3" height="5.3" stroke="#ff00ff" stroke-width="1.6" fill="none"/><rect x="289.41" y="396.47" width="5.3" height="5.3" stroke="#ff00ff" stroke-width="1.6" fill="none"/><rect x="295.52" y="396.46" width="5.3" height="5.3" stroke="#ff00ff" stroke-width="1.6" fill="none"/><rect x="301.63" y="396.45" width="5.3" height="5.3" stroke="#ff00ff" stroke-width="1.6" fill="none"/><rect x="307.74" y="396.44" width="5.3" height="5.3" stroke="#ff00ff" stroke-width="1.6" fill="none"/>
<g clip-path="url(#cc)"><polyline points="53.77,326 59.88,394.65 65.99,427.14 72.1,439.69 78.21,442.73 84.32,440.89 90.43,436.73 96.54,432.3 102.65,427.69 108.76,423.54 114.87,419.85 120.98,416.89 127.09,414.68 133.2,412.77 139.31,411.87 145.42,411.06 151.53,410.53 157.64,410.19 163.75,409.94 169.86,409.83 175.97,409.73 182.08,409.63 188.19,409.52 194.3,409.42 200.41,409.41 206.52,409.41 212.63,409.4 218.74,409.4 224.85,409.4 230.96,409.39 237.07,409.39 243.18,409.38 249.29,409.38 255.4,409.37 261.51,409.37 267.62,409.36 273.73,409.36 279.84,409.35 285.95,409.35 292.06,409.34 298.17,409.34 304.28,409.34 310.39,409.33 316.5,409.33" fill="none" stroke="#ffa500" stroke-width="1.6" stroke-linejoin="round"/></g><path d="M59.88 391.65L57.18 396.4H62.58Z" fill="#ffa500" stroke="#ffa500" stroke-width="1.2800000000000002" stroke-linejoin="miter"/><path d="M65.99 424.14L63.29 428.89H68.69Z" fill="#ffa500" stroke="#ffa500" stroke-width="1.2800000000000002" stroke-linejoin="miter"/><path d="M72.1 436.69L69.4 441.44H74.8Z" fill="#ffa500" stroke="#ffa500" stroke-width="1.2800000000000002" stroke-linejoin="miter"/><path d="M78.21 439.73L75.51 444.48H80.91Z" fill="#ffa500" stroke="#ffa500" stroke-width="1.2800000000000002" stroke-linejoin="miter"/><path d="M84.32 437.89L81.62 442.64H87.02Z" fill="#ffa500" stroke="#ffa500" stroke-width="1.2800000000000002" stroke-linejoin="miter"/><path d="M90.43 433.73L87.73 438.48H93.13Z" fill="#ffa500" stroke="#ffa500" stroke-width="1.2800000000000002" stroke-linejoin="miter"/><path d="M96.54 429.3L93.84 434.05H99.24Z" fill="#ffa500" stroke="#ffa500" stroke-width="1.2800000000000002" stroke-linejoin="miter"/><path d="M102.65 424.69L99.95 429.44H105.35Z" fill="#ffa500" stroke="#ffa500" stroke-width="1.2800000000000002" stroke-linejoin="miter"/><path d="M108.76 420.54L106.06 425.29H111.46Z" fill="#ffa500" stroke="#ffa500" stroke-width="1.2800000000000002" stroke-linejoin="miter"/><path d="M114.87 416.85L112.17 421.6H117.57Z" fill="#ffa500" stroke="#ffa500" stroke-width="1.2800000000000002" stroke-linejoin="miter"/><path d="M120.98 413.89L118.28 418.64H123.68Z" fill="#ffa500" stroke="#ffa500" stroke-width="1.2800000000000002" stroke-linejoin="miter"/><path d="M127.09 411.68L124.39 416.43H129.79Z" fill="#ffa500" stroke="#ffa500" stroke-width="1.2800000000000002" stroke-linejoin="miter"/><path d="M133.2 409.77L130.5 414.52H135.9Z" fill="#ffa500" stroke="#ffa500" stroke-width="1.2800000000000002" stroke-linejoin="miter"/><path d="M139.31 408.87L136.61 413.62H142.01Z" fill="#ffa500" stroke="#ffa500" stroke-width="1.2800000000000002" stroke-linejoin="miter"/><path d="M145.42 408.06L142.72 412.81H148.12Z" fill="#ffa500" stroke="#ffa500" stroke-width="1.2800000000000002" stroke-linejoin="miter"/><path d="M151.53 407.53L148.83 412.28H154.23Z" fill="#ffa500" stroke="#ffa500" stroke-width="1.2800000000000002" stroke-linejoin="miter"/><path d="M157.64 407.19L154.94 411.94H160.34Z" fill="#ffa500" stroke="#ffa500" stroke-width="1.2800000000000002" stroke-linejoin="miter"/><path d="M163.75 406.94L161.05 411.69H166.45Z" fill="#ffa500" stroke="#ffa500" stroke-width="1.2800000000000002" stroke-linejoin="miter"/><path d="M169.86 406.83L167.16 411.58H172.56Z" fill="#ffa500" stroke="#ffa500" stroke-width="1.2800000000000002" stroke-linejoin="miter"/><path d="M175.97 406.73L173.27 411.48H178.67Z" fill="#ffa500" stroke="#ffa500" stroke-width="1.2800000000000002" stroke-linejoin="miter"/><path d="M182.08 406.63L179.38 411.38H184.78Z" fill="#ffa500" stroke="#ffa500" stroke-width="1.2800000000000002" stroke-linejoin="miter"/><path d="M188.19 406.52L185.49 411.27H190.89Z" fill="#ffa500" stroke="#ffa500" stroke-width="1.2800000000000002" stroke-linejoin="miter"/><path d="M194.3 406.42L191.6 411.17H197Z" fill="#ffa500" stroke="#ffa500" stroke-width="1.2800000000000002" stroke-linejoin="miter"/><path d="M200.41 406.41L197.71 411.16H203.11Z" fill="#ffa500" stroke="#ffa500" stroke-width="1.2800000000000002" stroke-linejoin="miter"/><path d="M206.52 406.41L203.82 411.16H209.22Z" fill="#ffa500" stroke="#ffa500" stroke-width="1.2800000000000002" stroke-linejoin="miter"/><path d="M212.63 406.4L209.93 411.15H215.33Z" fill="#ffa500" stroke="#ffa500" stroke-width="1.2800000000000002" stroke-linejoin="miter"/><path d="M218.74 406.4L216.04 411.15H221.44Z" fill="#ffa500" stroke="#ffa500" stroke-width="1.2800000000000002" stroke-linejoin="miter"/><path d="M224.85 406.4L222.15 411.15H227.55Z" fill="#ffa500" stroke="#ffa500" stroke-width="1.2800000000000002" stroke-linejoin="miter"/><path d="M230.96 406.39L228.26 411.14H233.66Z" fill="#ffa500" stroke="#ffa500" stroke-width="1.2800000000000002" stroke-linejoin="miter"/><path d="M237.07 406.39L234.37 411.14H239.77Z" fill="#ffa500" stroke="#ffa500" stroke-width="1.2800000000000002" stroke-linejoin="miter"/><path d="M243.18 406.38L240.48 411.13H245.88Z" fill="#ffa500" stroke="#ffa500" stroke-width="1.2800000000000002" stroke-linejoin="miter"/><path d="M249.29 406.38L246.59 411.13H251.99Z" fill="#ffa500" stroke="#ffa500" stroke-width="1.2800000000000002" stroke-linejoin="miter"/><path d="M255.4 406.37L252.7 411.12H258.1Z" fill="#ffa500" stroke="#ffa500" stroke-width="1.2800000000000002" stroke-linejoin="miter"/><path d="M261.51 406.37L258.81 411.12H264.21Z" fill="#ffa500" stroke="#ffa500" stroke-width="1.2800000000000002" stroke-linejoin="miter"/><path d="M267.62 406.36L264.92 411.11H270.32Z" fill="#ffa500" stroke="#ffa500" stroke-width="1.2800000000000002" stroke-linejoin="miter"/><path d="M273.73 406.36L271.03 411.11H276.43Z" fill="#ffa500" stroke="#ffa500" stroke-width="1.2800000000000002" stroke-linejoin="miter"/><path d="M279.84 406.35L277.14 411.1H282.54Z" fill="#ffa500" stroke="#ffa500" stroke-width="1.2800000000000002" stroke-linejoin="miter"/><path d="M285.95 406.35L283.25 411.1H288.65Z" fill="#ffa500" stroke="#ffa500" stroke-width="1.2800000000000002" stroke-linejoin="miter"/><path d="M292.06 406.34L289.36 411.09H294.76Z" fill="#ffa500" stroke="#ffa500" stroke-width="1.2800000000000002" stroke-linejoin="miter"/><path d="M298.17 406.34L295.47 411.09H300.87Z" fill="#ffa500" stroke="#ffa500" stroke-width="1.2800000000000002" stroke-linejoin="miter"/><path d="M304.28 406.34L301.58 411.09H306.98Z" fill="#ffa500" stroke="#ffa500" stroke-width="1.2800000000000002" stroke-linejoin="miter"/><path d="M310.39 406.33L307.69 411.08H313.09Z" fill="#ffa500" stroke="#ffa500" stroke-width="1.2800000000000002" stroke-linejoin="miter"/>
<rect x="53.5" y="253.1" width="263" height="203.4" fill="none" stroke="#000" stroke-opacity="0.52" stroke-width="1" stroke-linejoin="round"/>
<text transform="translate(72.3 468.8) scale(0.9174 1)" text-anchor="middle" >1.0</text>
<text transform="translate(102.83 468.8) scale(0.9174 1)" text-anchor="middle" >1.5</text>
<text transform="translate(133.35 468.8) scale(0.9174 1)" text-anchor="middle" >2.0</text>
<text transform="translate(163.88 468.8) scale(0.9174 1)" text-anchor="middle" >2.5</text>
<text transform="translate(194.4 468.8) scale(0.9174 1)" text-anchor="middle" >3.0</text>
<text transform="translate(224.93 468.8) scale(0.9174 1)" text-anchor="middle" >3.5</text>
<text transform="translate(255.45 468.8) scale(0.9174 1)" text-anchor="middle" >4.0</text>
<text transform="translate(285.98 468.8) scale(0.9174 1)" text-anchor="middle" >4.5</text>
<text transform="translate(316.5 468.8) scale(0.9174 1)" text-anchor="middle" >5.0</text>
<text transform="translate(48.2 256.4) scale(0.9174 1)" text-anchor="end" >−107.5</text>
<text transform="translate(48.2 302.54) scale(0.9174 1)" text-anchor="end" >−108.0</text>
<text transform="translate(48.2 348.68) scale(0.9174 1)" text-anchor="end" >−108.5</text>
<text transform="translate(48.2 394.82) scale(0.9174 1)" text-anchor="end" >−109.0</text>
<text transform="translate(48.2 440.96) scale(0.9174 1)" text-anchor="end" >−109.5</text>
<path d="M72.3 456.5v-2M72.3 253.1v2M102.83 456.5v-2M102.83 253.1v2M133.35 456.5v-2M133.35 253.1v2M163.88 456.5v-2M163.88 253.1v2M194.4 456.5v-2M194.4 253.1v2M224.93 456.5v-2M224.93 253.1v2M255.45 456.5v-2M255.45 253.1v2M285.98 456.5v-2M285.98 253.1v2M316.5 456.5v-2M316.5 253.1v2M53.5 253.1h2M316.5 253.1h-2M53.5 299.24h2M316.5 299.24h-2M53.5 345.38h2M316.5 345.38h-2M53.5 391.52h2M316.5 391.52h-2M53.5 437.66h2M316.5 437.66h-2" stroke="#000" stroke-opacity="0.22" stroke-width="0.7" fill="none"/>
<text transform="translate(185 482.2) scale(0.9174 1)" text-anchor="middle" >N−N distance (Å)</text>
<text transform="translate(9.1 354.8) rotate(-90) scale(0.9174 1)" text-anchor="middle" x="0" y="0">Energy (E<tspan font-size="7.67" dy="2">h</tspan><tspan dy="-2">)</tspan></text>
<text transform="translate(56.8 262.5) scale(0.9174 1)" text-anchor="start" font-size="8.39">(c)</text>
<text transform="translate(277.7 262.15) scale(0.9174 1)" text-anchor="end" >CASPT2</text>
<path d="M283.1 259H305.9" stroke="#ff0000" stroke-width="1.6"/>
<path d="M291.6 259H297.2M294.4 256.2V261.8" stroke="#ff0000" stroke-width="1.6" fill="none"/>
<text transform="translate(277.7 271) scale(0.9174 1)" text-anchor="end" >v2RDM−CASSCF</text>
<path d="M283.1 267.85H305.9" stroke="#006400" stroke-width="1.6"/>
<path d="M291.65 265.1L297.15 270.6M291.65 270.6L297.15 265.1" stroke="#006400" stroke-width="1.6" fill="none"/>
<text transform="translate(277.7 279.85) scale(0.9174 1)" text-anchor="end" >ftSVWN3</text>
<path d="M283.1 276.7H305.9" stroke="#0000ff" stroke-width="1.6"/>
<circle cx="294.4" cy="276.7" r="2.65" stroke="#0000ff" stroke-width="1.6" fill="none"/>
<text transform="translate(277.7 288.7) scale(0.9174 1)" text-anchor="end" >ftPBE</text>
<path d="M283.1 285.55H305.9" stroke="#ff00ff" stroke-width="1.6"/>
<rect x="291.75" y="282.9" width="5.3" height="5.3" stroke="#ff00ff" stroke-width="1.6" fill="none"/>
<text transform="translate(277.7 297.55) scale(0.9174 1)" text-anchor="end" >ftBLYP</text>
<path d="M283.1 294.4H305.9" stroke="#ffa500" stroke-width="1.6"/>
<path d="M294.4 291.4L291.7 296.15H297.1Z" fill="#ffa500" stroke="#ffa500" stroke-width="1.2800000000000002" stroke-linejoin="miter"/>
<clipPath id="cd"><rect x="385.5" y="253.1" width="263" height="203.4"/></clipPath>
<g clip-path="url(#cd)"><polyline points="385.5,456.5 398.65,442.47 411.8,432.3 424.95,425.58 438.1,420.65 451.25,417.45 464.4,415.72 477.55,415.06 490.7,415.06 503.85,415.72 517,416.33 530.15,416.74 543.3,417.4 556.45,418.21 569.6,418.87 582.75,419.48 595.9,420.14 609.05,420.55 622.2,421.16 635.35,421.52 648.5,421.82" fill="none" stroke="#ff0000" stroke-width="1.6" stroke-linejoin="round"/></g><path d="M395.85 442.47H401.45M398.65 439.67V445.27" stroke="#ff0000" stroke-width="1.6" fill="none"/><path d="M409 432.3H414.6M411.8 429.5V435.1" stroke="#ff0000" stroke-width="1.6" fill="none"/><path d="M422.15 425.58H427.75M424.95 422.78V428.38" stroke="#ff0000" stroke-width="1.6" fill="none"/><path d="M435.3 420.65H440.9M438.1 417.85V423.45" stroke="#ff0000" stroke-width="1.6" fill="none"/><path d="M448.45 417.45H454.05M451.25 414.65V420.25" stroke="#ff0000" stroke-width="1.6" fill="none"/><path d="M461.6 415.72H467.2M464.4 412.92V418.52" stroke="#ff0000" stroke-width="1.6" fill="none"/><path d="M474.75 415.06H480.35M477.55 412.26V417.86" stroke="#ff0000" stroke-width="1.6" fill="none"/><path d="M487.9 415.06H493.5M490.7 412.26V417.86" stroke="#ff0000" stroke-width="1.6" fill="none"/><path d="M501.05 415.72H506.65M503.85 412.92V418.52" stroke="#ff0000" stroke-width="1.6" fill="none"/><path d="M514.2 416.33H519.8M517 413.53V419.13" stroke="#ff0000" stroke-width="1.6" fill="none"/><path d="M527.35 416.74H532.95M530.15 413.94V419.54" stroke="#ff0000" stroke-width="1.6" fill="none"/><path d="M540.5 417.4H546.1M543.3 414.6V420.2" stroke="#ff0000" stroke-width="1.6" fill="none"/><path d="M553.65 418.21H559.25M556.45 415.41V421.01" stroke="#ff0000" stroke-width="1.6" fill="none"/><path d="M566.8 418.87H572.4M569.6 416.07V421.67" stroke="#ff0000" stroke-width="1.6" fill="none"/><path d="M579.95 419.48H585.55M582.75 416.68V422.28" stroke="#ff0000" stroke-width="1.6" fill="none"/><path d="M593.1 420.14H598.7M595.9 417.34V422.94" stroke="#ff0000" stroke-width="1.6" fill="none"/><path d="M606.25 420.55H611.85M609.05 417.75V423.35" stroke="#ff0000" stroke-width="1.6" fill="none"/><path d="M619.4 421.16H625M622.2 418.36V423.96" stroke="#ff0000" stroke-width="1.6" fill="none"/><path d="M632.55 421.52H638.15M635.35 418.72V424.32" stroke="#ff0000" stroke-width="1.6" fill="none"/>
<g clip-path="url(#cd)"><polyline points="385.5,456.5 398.65,437.99 411.8,424.97 424.95,414.85 438.1,407.07 451.25,401.84 464.4,397.62 477.55,394.26 490.7,391.92 503.85,390.04 517,388.56 530.15,387.45 543.3,386.63 556.45,385.97 569.6,385.46 582.75,385 595.9,384.6 609.05,384.24 622.2,383.89 635.35,383.63 648.5,383.38" fill="none" stroke="#006400" stroke-width="1.6" stroke-linejoin="round"/></g><path d="M395.9 435.24L401.4 440.74M395.9 440.74L401.4 435.24" stroke="#006400" stroke-width="1.6" fill="none"/><path d="M409.05 422.22L414.55 427.72M409.05 427.72L414.55 422.22" stroke="#006400" stroke-width="1.6" fill="none"/><path d="M422.2 412.1L427.7 417.6M422.2 417.6L427.7 412.1" stroke="#006400" stroke-width="1.6" fill="none"/><path d="M435.35 404.32L440.85 409.82M435.35 409.82L440.85 404.32" stroke="#006400" stroke-width="1.6" fill="none"/><path d="M448.5 399.09L454 404.59M448.5 404.59L454 399.09" stroke="#006400" stroke-width="1.6" fill="none"/><path d="M461.65 394.87L467.15 400.37M461.65 400.37L467.15 394.87" stroke="#006400" stroke-width="1.6" fill="none"/><path d="M474.8 391.51L480.3 397.01M474.8 397.01L480.3 391.51" stroke="#006400" stroke-width="1.6" fill="none"/><path d="M487.95 389.17L493.45 394.67M487.95 394.67L493.45 389.17" stroke="#006400" stroke-width="1.6" fill="none"/><path d="M501.1 387.29L506.6 392.79M501.1 392.79L506.6 387.29" stroke="#006400" stroke-width="1.6" fill="none"/><path d="M514.25 385.81L519.75 391.31M514.25 391.31L519.75 385.81" stroke="#006400" stroke-width="1.6" fill="none"/><path d="M527.4 384.7L532.9 390.2M527.4 390.2L532.9 384.7" stroke="#006400" stroke-width="1.6" fill="none"/><path d="M540.55 383.88L546.05 389.38M540.55 389.38L546.05 383.88" stroke="#006400" stroke-width="1.6" fill="none"/><path d="M553.7 383.22L559.2 388.72M553.7 388.72L559.2 383.22" stroke="#006400" stroke-width="1.6" fill="none"/><path d="M566.85 382.71L572.35 388.21M566.85 388.21L572.35 382.71" stroke="#006400" stroke-width="1.6" fill="none"/><path d="M580 382.25L585.5 387.75M580 387.75L585.5 382.25" stroke="#006400" stroke-width="1.6" fill="none"/><path d="M593.15 381.85L598.65 387.35M593.15 387.35L598.65 381.85" stroke="#006400" stroke-width="1.6" fill="none"/><path d="M606.3 381.49L611.8 386.99M606.3 386.99L611.8 381.49" stroke="#006400" stroke-width="1.6" fill="none"/><path d="M619.45 381.14L624.95 386.64M619.45 386.64L624.95 381.14" stroke="#006400" stroke-width="1.6" fill="none"/><path d="M632.6 380.88L638.1 386.38M632.6 386.38L638.1 380.88" stroke="#006400" stroke-width="1.6" fill="none"/>
<g clip-path="url(#cd)"><polyline points="385.5,456.5 398.65,411.04 411.8,376.41 424.95,350.33 438.1,330.24 451.25,315.29 464.4,303.34 477.55,294.29 490.7,287.12 503.85,281.27 517,277.46 530.15,273.9 543.3,270.74 556.45,268.2 569.6,266.93 582.75,265.66 595.9,264.64 609.05,263.78 622.2,263.17 635.35,262.76 648.5,262.35" fill="none" stroke="#0000ff" stroke-width="1.6" stroke-linejoin="round"/></g><circle cx="398.65" cy="411.04" r="2.65" stroke="#0000ff" stroke-width="1.6" fill="none"/><circle cx="411.8" cy="376.41" r="2.65" stroke="#0000ff" stroke-width="1.6" fill="none"/><circle cx="424.95" cy="350.33" r="2.65" stroke="#0000ff" stroke-width="1.6" fill="none"/><circle cx="438.1" cy="330.24" r="2.65" stroke="#0000ff" stroke-width="1.6" fill="none"/><circle cx="451.25" cy="315.29" r="2.65" stroke="#0000ff" stroke-width="1.6" fill="none"/><circle cx="464.4" cy="303.34" r="2.65" stroke="#0000ff" stroke-width="1.6" fill="none"/><circle cx="477.55" cy="294.29" r="2.65" stroke="#0000ff" stroke-width="1.6" fill="none"/><circle cx="490.7" cy="287.12" r="2.65" stroke="#0000ff" stroke-width="1.6" fill="none"/><circle cx="503.85" cy="281.27" r="2.65" stroke="#0000ff" stroke-width="1.6" fill="none"/><circle cx="517" cy="277.46" r="2.65" stroke="#0000ff" stroke-width="1.6" fill="none"/><circle cx="530.15" cy="273.9" r="2.65" stroke="#0000ff" stroke-width="1.6" fill="none"/><circle cx="543.3" cy="270.74" r="2.65" stroke="#0000ff" stroke-width="1.6" fill="none"/><circle cx="556.45" cy="268.2" r="2.65" stroke="#0000ff" stroke-width="1.6" fill="none"/><circle cx="569.6" cy="266.93" r="2.65" stroke="#0000ff" stroke-width="1.6" fill="none"/><circle cx="582.75" cy="265.66" r="2.65" stroke="#0000ff" stroke-width="1.6" fill="none"/><circle cx="595.9" cy="264.64" r="2.65" stroke="#0000ff" stroke-width="1.6" fill="none"/><circle cx="609.05" cy="263.78" r="2.65" stroke="#0000ff" stroke-width="1.6" fill="none"/><circle cx="622.2" cy="263.17" r="2.65" stroke="#0000ff" stroke-width="1.6" fill="none"/><circle cx="635.35" cy="262.76" r="2.65" stroke="#0000ff" stroke-width="1.6" fill="none"/>
<g clip-path="url(#cd)"><polyline points="385.5,456.5 398.65,427.97 411.8,405.29 424.95,390.19 438.1,377.53 451.25,369.14 464.4,363.14 477.55,357.75 490.7,354.04 503.85,351.14 517,348.95 530.15,347.07 543.3,345.49 556.45,344.22 569.6,342.95 582.75,342.04 595.9,341.38 609.05,340.92 622.2,340.61 635.35,340.26 648.5,340.1" fill="none" stroke="#ff00ff" stroke-width="1.6" stroke-linejoin="round"/></g><rect x="396" y="425.32" width="5.3" height="5.3" stroke="#ff00ff" stroke-width="1.6" fill="none"/><rect x="409.15" y="402.64" width="5.3" height="5.3" stroke="#ff00ff" stroke-width="1.6" fill="none"/><rect x="422.3" y="387.54" width="5.3" height="5.3" stroke="#ff00ff" stroke-width="1.6" fill="none"/><rect x="435.45" y="374.88" width="5.3" height="5.3" stroke="#ff00ff" stroke-width="1.6" fill="none"/><rect x="448.6" y="366.49" width="5.3" height="5.3" stroke="#ff00ff" stroke-width="1.6" fill="none"/><rect x="461.75" y="360.49" width="5.3" height="5.3" stroke="#ff00ff" stroke-width="1.6" fill="none"/><rect x="474.9" y="355.1" width="5.3" height="5.3" stroke="#ff00ff" stroke-width="1.6" fill="none"/><rect x="488.05" y="351.39" width="5.3" height="5.3" stroke="#ff00ff" stroke-width="1.6" fill="none"/><rect x="501.2" y="348.49" width="5.3" height="5.3" stroke="#ff00ff" stroke-width="1.6" fill="none"/><rect x="514.35" y="346.3" width="5.3" height="5.3" stroke="#ff00ff" stroke-width="1.6" fill="none"/><rect x="527.5" y="344.42" width="5.3" height="5.3" stroke="#ff00ff" stroke-width="1.6" fill="none"/><rect x="540.65" y="342.84" width="5.3" height="5.3" stroke="#ff00ff" stroke-width="1.6" fill="none"/><rect x="553.8" y="341.57" width="5.3" height="5.3" stroke="#ff00ff" stroke-width="1.6" fill="none"/><rect x="566.95" y="340.3" width="5.3" height="5.3" stroke="#ff00ff" stroke-width="1.6" fill="none"/><rect x="580.1" y="339.39" width="5.3" height="5.3" stroke="#ff00ff" stroke-width="1.6" fill="none"/><rect x="593.25" y="338.73" width="5.3" height="5.3" stroke="#ff00ff" stroke-width="1.6" fill="none"/><rect x="606.4" y="338.27" width="5.3" height="5.3" stroke="#ff00ff" stroke-width="1.6" fill="none"/><rect x="619.55" y="337.96" width="5.3" height="5.3" stroke="#ff00ff" stroke-width="1.6" fill="none"/><rect x="632.7" y="337.61" width="5.3" height="5.3" stroke="#ff00ff" stroke-width="1.6" fill="none"/>
<g clip-path="url(#cd)"><polyline points="385.5,456.5 398.65,424.21 411.8,398.99 424.95,381.55 438.1,367.87 451.25,358.05 464.4,350.22 477.55,344.12 490.7,339.14 503.85,336.04 517,333.44 530.15,331.26 543.3,329.68 556.45,328.46 569.6,327.49 582.75,326.88 595.9,326.58 609.05,326.27 622.2,326.07 635.35,325.92 648.5,325.82" fill="none" stroke="#ffa500" stroke-width="1.6" stroke-linejoin="round"/></g><path d="M398.65 421.21L395.95 425.96H401.35Z" fill="#ffa500" stroke="#ffa500" stroke-width="1.2800000000000002" stroke-linejoin="miter"/><path d="M411.8 395.99L409.1 400.74H414.5Z" fill="#ffa500" stroke="#ffa500" stroke-width="1.2800000000000002" stroke-linejoin="miter"/><path d="M424.95 378.55L422.25 383.3H427.65Z" fill="#ffa500" stroke="#ffa500" stroke-width="1.2800000000000002" stroke-linejoin="miter"/><path d="M438.1 364.87L435.4 369.62H440.8Z" fill="#ffa500" stroke="#ffa500" stroke-width="1.2800000000000002" stroke-linejoin="miter"/><path d="M451.25 355.05L448.55 359.8H453.95Z" fill="#ffa500" stroke="#ffa500" stroke-width="1.2800000000000002" stroke-linejoin="miter"/><path d="M464.4 347.22L461.7 351.97H467.1Z" fill="#ffa500" stroke="#ffa500" stroke-width="1.2800000000000002" stroke-linejoin="miter"/><path d="M477.55 341.12L474.85 345.87H480.25Z" fill="#ffa500" stroke="#ffa500" stroke-width="1.2800000000000002" stroke-linejoin="miter"/><path d="M490.7 336.14L488 340.89H493.4Z" fill="#ffa500" stroke="#ffa500" stroke-width="1.2800000000000002" stroke-linejoin="miter"/><path d="M503.85 333.04L501.15 337.79H506.55Z" fill="#ffa500" stroke="#ffa500" stroke-width="1.2800000000000002" stroke-linejoin="miter"/><path d="M517 330.44L514.3 335.19H519.7Z" fill="#ffa500" stroke="#ffa500" stroke-width="1.2800000000000002" stroke-linejoin="miter"/><path d="M530.15 328.26L527.45 333.01H532.85Z" fill="#ffa500" stroke="#ffa500" stroke-width="1.2800000000000002" stroke-linejoin="miter"/><path d="M543.3 326.68L540.6 331.43H546Z" fill="#ffa500" stroke="#ffa500" stroke-width="1.2800000000000002" stroke-linejoin="miter"/><path d="M556.45 325.46L553.75 330.21H559.15Z" fill="#ffa500" stroke="#ffa500" stroke-width="1.2800000000000002" stroke-linejoin="miter"/><path d="M569.6 324.49L566.9 329.24H572.3Z" fill="#ffa500" stroke="#ffa500" stroke-width="1.2800000000000002" stroke-linejoin="miter"/><path d="M582.75 323.88L580.05 328.63H585.45Z" fill="#ffa500" stroke="#ffa500" stroke-width="1.2800000000000002" stroke-linejoin="miter"/><path d="M595.9 323.58L593.2 328.33H598.6Z" fill="#ffa500" stroke="#ffa500" stroke-width="1.2800000000000002" stroke-linejoin="miter"/><path d="M609.05 323.27L606.35 328.02H611.75Z" fill="#ffa500" stroke="#ffa500" stroke-width="1.2800000000000002" stroke-linejoin="miter"/><path d="M622.2 323.07L619.5 327.82H624.9Z" fill="#ffa500" stroke="#ffa500" stroke-width="1.2800000000000002" stroke-linejoin="miter"/><path d="M635.35 322.92L632.65 327.67H638.05Z" fill="#ffa500" stroke="#ffa500" stroke-width="1.2800000000000002" stroke-linejoin="miter"/>
<rect x="385.5" y="253.1" width="263" height="203.4" fill="none" stroke="#000" stroke-opacity="0.52" stroke-width="1" stroke-linejoin="round"/>
<text transform="translate(385.5 468.8) scale(0.9174 1)" text-anchor="middle" >3.0</text>
<text transform="translate(451.25 468.8) scale(0.9174 1)" text-anchor="middle" >3.5</text>
<text transform="translate(517 468.8) scale(0.9174 1)" text-anchor="middle" >4.0</text>
<text transform="translate(582.75 468.8) scale(0.9174 1)" text-anchor="middle" >4.5</text>
<text transform="translate(648.5 468.8) scale(0.9174 1)" text-anchor="middle" >5.0</text>
<text transform="translate(380.2 459.8) scale(0.9174 1)" text-anchor="end" >0.0000</text>
<text transform="translate(380.2 434.38) scale(0.9174 1)" text-anchor="end" >0.0005</text>
<text transform="translate(380.2 408.95) scale(0.9174 1)" text-anchor="end" >0.0010</text>
<text transform="translate(380.2 383.53) scale(0.9174 1)" text-anchor="end" >0.0015</text>
<text transform="translate(380.2 358.1) scale(0.9174 1)" text-anchor="end" >0.0020</text>
<text transform="translate(380.2 332.68) scale(0.9174 1)" text-anchor="end" >0.0025</text>
<text transform="translate(380.2 307.25) scale(0.9174 1)" text-anchor="end" >0.0030</text>
<text transform="translate(380.2 281.82) scale(0.9174 1)" text-anchor="end" >0.0035</text>
<text transform="translate(380.2 256.4) scale(0.9174 1)" text-anchor="end" >0.0040</text>
<path d="M385.5 456.5v-2M385.5 253.1v2M451.25 456.5v-2M451.25 253.1v2M517 456.5v-2M517 253.1v2M582.75 456.5v-2M582.75 253.1v2M648.5 456.5v-2M648.5 253.1v2M385.5 456.5h2M648.5 456.5h-2M385.5 431.07h2M648.5 431.07h-2M385.5 405.65h2M648.5 405.65h-2M385.5 380.23h2M648.5 380.23h-2M385.5 354.8h2M648.5 354.8h-2M385.5 329.38h2M648.5 329.38h-2M385.5 303.95h2M648.5 303.95h-2M385.5 278.52h2M648.5 278.52h-2M385.5 253.1h2M648.5 253.1h-2" stroke="#000" stroke-opacity="0.22" stroke-width="0.7" fill="none"/>
<text transform="translate(517 482.2) scale(0.9174 1)" text-anchor="middle" >N−N distance (Å)</text>
<text transform="translate(341.1 354.8) rotate(-90) scale(0.9174 1)" text-anchor="middle" x="0" y="0">Energy (E<tspan font-size="7.67" dy="2">h</tspan><tspan dy="-2">)</tspan></text>
<text transform="translate(388.8 262.5) scale(0.9174 1)" text-anchor="start" font-size="8.39">(d)</text>
</g>
</svg>
</body></html>
